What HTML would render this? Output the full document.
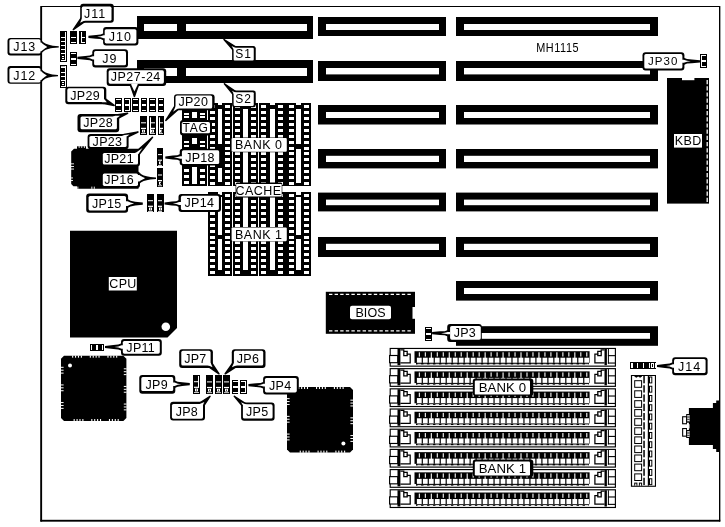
<!DOCTYPE html>
<html><head><meta charset="utf-8"><title>MH1115</title>
<style>
html,body{margin:0;padding:0;background:#fff;}
body{width:725px;height:527px;overflow:hidden;font-family:"Liberation Sans",sans-serif;}
svg{display:block;filter:grayscale(1);}
</style></head><body>
<svg width="725" height="527" viewBox="0 0 725 527">
<rect x="0" y="0" width="725" height="527" fill="#fff"/>
<path d="M41.2,6.5 L719.6,6.5 L719.6,520.7 L41.2,520.7 Z" fill="none" stroke="#000" stroke-width="1"/>
<rect x="40.30" y="6.00" width="1.80" height="515.60" fill="#000" />
<rect x="40.30" y="519.80" width="680.00" height="1.80" fill="#000" />
<rect x="719.00" y="6.00" width="1.30" height="515.60" fill="#000" />
<rect x="137.00" y="16.00" width="176.00" height="23.00" fill="#000" />
<rect x="144.00" y="24.00" width="163.00" height="7.00" fill="#fff" />
<rect x="177.00" y="16.00" width="9.00" height="23.00" fill="#000" />
<rect x="137.00" y="60.00" width="176.00" height="23.00" fill="#000" />
<rect x="144.00" y="68.00" width="163.00" height="8.00" fill="#fff" />
<rect x="177.00" y="60.00" width="9.00" height="23.00" fill="#000" />
<rect x="318.00" y="17.00" width="128.00" height="19.00" fill="#000" />
<rect x="326.00" y="24.00" width="113.00" height="6.00" fill="#fff" />
<rect x="456.00" y="17.00" width="202.00" height="19.00" fill="#000" />
<rect x="464.00" y="24.00" width="186.00" height="6.00" fill="#fff" />
<rect x="318.00" y="61.00" width="128.00" height="20.00" fill="#000" />
<rect x="326.00" y="68.00" width="113.00" height="6.40" fill="#fff" />
<rect x="456.00" y="61.00" width="202.00" height="20.00" fill="#000" />
<rect x="464.00" y="68.00" width="186.00" height="6.40" fill="#fff" />
<rect x="318.00" y="105.00" width="128.00" height="19.50" fill="#000" />
<rect x="326.00" y="112.00" width="113.00" height="6.00" fill="#fff" />
<rect x="456.00" y="105.00" width="202.00" height="19.50" fill="#000" />
<rect x="464.00" y="112.00" width="186.00" height="6.00" fill="#fff" />
<rect x="318.00" y="149.00" width="128.00" height="19.40" fill="#000" />
<rect x="326.00" y="155.80" width="113.00" height="6.20" fill="#fff" />
<rect x="456.00" y="149.00" width="202.00" height="19.40" fill="#000" />
<rect x="464.00" y="155.80" width="186.00" height="6.20" fill="#fff" />
<rect x="318.00" y="192.60" width="128.00" height="18.80" fill="#000" />
<rect x="326.00" y="199.60" width="113.00" height="5.60" fill="#fff" />
<rect x="456.00" y="192.60" width="202.00" height="18.80" fill="#000" />
<rect x="464.00" y="199.60" width="186.00" height="5.60" fill="#fff" />
<rect x="318.00" y="237.00" width="128.00" height="20.00" fill="#000" />
<rect x="326.00" y="243.80" width="113.00" height="6.20" fill="#fff" />
<rect x="456.00" y="237.00" width="202.00" height="20.00" fill="#000" />
<rect x="464.00" y="243.80" width="186.00" height="6.20" fill="#fff" />
<rect x="456.00" y="281.00" width="202.00" height="19.60" fill="#000" />
<rect x="464.00" y="288.00" width="186.00" height="6.00" fill="#fff" />
<rect x="456.00" y="326.20" width="202.00" height="19.60" fill="#000" />
<rect x="464.00" y="333.00" width="186.00" height="5.80" fill="#fff" />
<rect x="182.00" y="103.00" width="25.00" height="83.00" fill="#000" />
<rect x="184.00" y="113.00" width="5.00" height="2.00" fill="#fff" />
<rect x="200.00" y="113.00" width="5.00" height="2.00" fill="#fff" />
<rect x="184.00" y="116.00" width="5.00" height="2.00" fill="#fff" />
<rect x="200.00" y="116.00" width="5.00" height="2.00" fill="#fff" />
<rect x="184.00" y="141.00" width="5.00" height="2.00" fill="#fff" />
<rect x="200.00" y="141.00" width="5.00" height="2.00" fill="#fff" />
<rect x="184.00" y="145.00" width="5.00" height="2.00" fill="#fff" />
<rect x="200.00" y="145.00" width="5.00" height="2.00" fill="#fff" />
<rect x="184.00" y="169.00" width="5.00" height="3.00" fill="#fff" />
<rect x="200.00" y="169.00" width="5.00" height="3.00" fill="#fff" />
<rect x="184.00" y="175.00" width="5.00" height="3.00" fill="#fff" />
<rect x="200.00" y="175.00" width="5.00" height="3.00" fill="#fff" />
<rect x="184.00" y="181.00" width="5.00" height="3.00" fill="#fff" />
<rect x="200.00" y="181.00" width="5.00" height="3.00" fill="#fff" />
<rect x="192.00" y="112.00" width="5.00" height="6.00" fill="#fff" />
<rect x="192.00" y="138.00" width="5.00" height="6.00" fill="#fff" />
<rect x="192.00" y="167.00" width="5.00" height="17.00" fill="#fff" />
<rect x="208.00" y="103.00" width="24.00" height="83.00" fill="#000" />
<rect x="210.00" y="105.00" width="5.00" height="3.00" fill="#fff" />
<rect x="225.00" y="105.00" width="5.00" height="3.00" fill="#fff" />
<rect x="210.00" y="111.00" width="5.00" height="3.00" fill="#fff" />
<rect x="225.00" y="111.00" width="5.00" height="3.00" fill="#fff" />
<rect x="210.00" y="117.00" width="5.00" height="3.00" fill="#fff" />
<rect x="225.00" y="117.00" width="5.00" height="3.00" fill="#fff" />
<rect x="210.00" y="123.00" width="5.00" height="3.00" fill="#fff" />
<rect x="225.00" y="123.00" width="5.00" height="3.00" fill="#fff" />
<rect x="210.00" y="129.00" width="5.00" height="3.00" fill="#fff" />
<rect x="225.00" y="129.00" width="5.00" height="3.00" fill="#fff" />
<rect x="210.00" y="135.00" width="5.00" height="3.00" fill="#fff" />
<rect x="225.00" y="135.00" width="5.00" height="3.00" fill="#fff" />
<rect x="210.00" y="141.00" width="5.00" height="3.00" fill="#fff" />
<rect x="225.00" y="141.00" width="5.00" height="3.00" fill="#fff" />
<rect x="210.00" y="147.00" width="5.00" height="3.00" fill="#fff" />
<rect x="225.00" y="147.00" width="5.00" height="3.00" fill="#fff" />
<rect x="210.00" y="152.00" width="5.00" height="3.00" fill="#fff" />
<rect x="225.00" y="152.00" width="5.00" height="3.00" fill="#fff" />
<rect x="210.00" y="158.00" width="5.00" height="3.00" fill="#fff" />
<rect x="225.00" y="158.00" width="5.00" height="3.00" fill="#fff" />
<rect x="210.00" y="164.00" width="5.00" height="3.00" fill="#fff" />
<rect x="225.00" y="164.00" width="5.00" height="3.00" fill="#fff" />
<rect x="210.00" y="170.00" width="5.00" height="3.00" fill="#fff" />
<rect x="225.00" y="170.00" width="5.00" height="3.00" fill="#fff" />
<rect x="210.00" y="176.00" width="5.00" height="3.00" fill="#fff" />
<rect x="225.00" y="176.00" width="5.00" height="3.00" fill="#fff" />
<rect x="210.00" y="182.00" width="5.00" height="3.00" fill="#fff" />
<rect x="225.00" y="182.00" width="5.00" height="3.00" fill="#fff" />
<rect x="218.00" y="109.00" width="4.00" height="35.00" fill="#fff" />
<rect x="218.00" y="168.00" width="4.00" height="14.00" fill="#fff" />
<rect x="218.00" y="103.00" width="4.00" height="2.00" fill="#fff" />
<rect x="208.00" y="192.00" width="24.00" height="84.00" fill="#000" />
<rect x="210.00" y="194.00" width="5.00" height="3.00" fill="#fff" />
<rect x="225.00" y="194.00" width="5.00" height="3.00" fill="#fff" />
<rect x="210.00" y="200.00" width="5.00" height="3.00" fill="#fff" />
<rect x="225.00" y="200.00" width="5.00" height="3.00" fill="#fff" />
<rect x="210.00" y="206.00" width="5.00" height="3.00" fill="#fff" />
<rect x="225.00" y="206.00" width="5.00" height="3.00" fill="#fff" />
<rect x="210.00" y="212.00" width="5.00" height="3.00" fill="#fff" />
<rect x="225.00" y="212.00" width="5.00" height="3.00" fill="#fff" />
<rect x="210.00" y="218.00" width="5.00" height="3.00" fill="#fff" />
<rect x="225.00" y="218.00" width="5.00" height="3.00" fill="#fff" />
<rect x="210.00" y="224.00" width="5.00" height="3.00" fill="#fff" />
<rect x="225.00" y="224.00" width="5.00" height="3.00" fill="#fff" />
<rect x="210.00" y="230.00" width="5.00" height="3.00" fill="#fff" />
<rect x="225.00" y="230.00" width="5.00" height="3.00" fill="#fff" />
<rect x="210.00" y="236.00" width="5.00" height="3.00" fill="#fff" />
<rect x="225.00" y="236.00" width="5.00" height="3.00" fill="#fff" />
<rect x="210.00" y="241.00" width="5.00" height="3.00" fill="#fff" />
<rect x="225.00" y="241.00" width="5.00" height="3.00" fill="#fff" />
<rect x="210.00" y="247.00" width="5.00" height="3.00" fill="#fff" />
<rect x="225.00" y="247.00" width="5.00" height="3.00" fill="#fff" />
<rect x="210.00" y="253.00" width="5.00" height="3.00" fill="#fff" />
<rect x="225.00" y="253.00" width="5.00" height="3.00" fill="#fff" />
<rect x="210.00" y="259.00" width="5.00" height="3.00" fill="#fff" />
<rect x="225.00" y="259.00" width="5.00" height="3.00" fill="#fff" />
<rect x="210.00" y="265.00" width="5.00" height="3.00" fill="#fff" />
<rect x="225.00" y="265.00" width="5.00" height="3.00" fill="#fff" />
<rect x="210.00" y="271.00" width="5.00" height="3.00" fill="#fff" />
<rect x="225.00" y="271.00" width="5.00" height="3.00" fill="#fff" />
<rect x="218.00" y="197.00" width="4.00" height="38.00" fill="#fff" />
<rect x="218.00" y="239.00" width="4.00" height="31.00" fill="#fff" />
<rect x="218.00" y="192.00" width="4.00" height="3.00" fill="#fff" />
<rect x="233.00" y="103.00" width="25.00" height="83.00" fill="#000" />
<rect x="235.00" y="105.00" width="5.00" height="3.00" fill="#fff" />
<rect x="251.00" y="105.00" width="5.00" height="3.00" fill="#fff" />
<rect x="235.00" y="111.00" width="5.00" height="3.00" fill="#fff" />
<rect x="251.00" y="111.00" width="5.00" height="3.00" fill="#fff" />
<rect x="235.00" y="117.00" width="5.00" height="3.00" fill="#fff" />
<rect x="251.00" y="117.00" width="5.00" height="3.00" fill="#fff" />
<rect x="235.00" y="123.00" width="5.00" height="3.00" fill="#fff" />
<rect x="251.00" y="123.00" width="5.00" height="3.00" fill="#fff" />
<rect x="235.00" y="129.00" width="5.00" height="3.00" fill="#fff" />
<rect x="251.00" y="129.00" width="5.00" height="3.00" fill="#fff" />
<rect x="235.00" y="135.00" width="5.00" height="3.00" fill="#fff" />
<rect x="251.00" y="135.00" width="5.00" height="3.00" fill="#fff" />
<rect x="235.00" y="141.00" width="5.00" height="3.00" fill="#fff" />
<rect x="251.00" y="141.00" width="5.00" height="3.00" fill="#fff" />
<rect x="235.00" y="147.00" width="5.00" height="3.00" fill="#fff" />
<rect x="251.00" y="147.00" width="5.00" height="3.00" fill="#fff" />
<rect x="235.00" y="152.00" width="5.00" height="3.00" fill="#fff" />
<rect x="251.00" y="152.00" width="5.00" height="3.00" fill="#fff" />
<rect x="235.00" y="158.00" width="5.00" height="3.00" fill="#fff" />
<rect x="251.00" y="158.00" width="5.00" height="3.00" fill="#fff" />
<rect x="235.00" y="164.00" width="5.00" height="3.00" fill="#fff" />
<rect x="251.00" y="164.00" width="5.00" height="3.00" fill="#fff" />
<rect x="235.00" y="170.00" width="5.00" height="3.00" fill="#fff" />
<rect x="251.00" y="170.00" width="5.00" height="3.00" fill="#fff" />
<rect x="235.00" y="176.00" width="5.00" height="3.00" fill="#fff" />
<rect x="251.00" y="176.00" width="5.00" height="3.00" fill="#fff" />
<rect x="235.00" y="182.00" width="5.00" height="3.00" fill="#fff" />
<rect x="251.00" y="182.00" width="5.00" height="3.00" fill="#fff" />
<rect x="243.00" y="109.00" width="5.00" height="35.00" fill="#fff" />
<rect x="243.00" y="149.00" width="5.00" height="34.00" fill="#fff" />
<rect x="243.00" y="103.00" width="5.00" height="2.00" fill="#fff" />
<rect x="233.00" y="192.00" width="25.00" height="84.00" fill="#000" />
<rect x="235.00" y="194.00" width="5.00" height="3.00" fill="#fff" />
<rect x="251.00" y="194.00" width="5.00" height="3.00" fill="#fff" />
<rect x="235.00" y="200.00" width="5.00" height="3.00" fill="#fff" />
<rect x="251.00" y="200.00" width="5.00" height="3.00" fill="#fff" />
<rect x="235.00" y="206.00" width="5.00" height="3.00" fill="#fff" />
<rect x="251.00" y="206.00" width="5.00" height="3.00" fill="#fff" />
<rect x="235.00" y="212.00" width="5.00" height="3.00" fill="#fff" />
<rect x="251.00" y="212.00" width="5.00" height="3.00" fill="#fff" />
<rect x="235.00" y="218.00" width="5.00" height="3.00" fill="#fff" />
<rect x="251.00" y="218.00" width="5.00" height="3.00" fill="#fff" />
<rect x="235.00" y="224.00" width="5.00" height="3.00" fill="#fff" />
<rect x="251.00" y="224.00" width="5.00" height="3.00" fill="#fff" />
<rect x="235.00" y="230.00" width="5.00" height="3.00" fill="#fff" />
<rect x="251.00" y="230.00" width="5.00" height="3.00" fill="#fff" />
<rect x="235.00" y="236.00" width="5.00" height="3.00" fill="#fff" />
<rect x="251.00" y="236.00" width="5.00" height="3.00" fill="#fff" />
<rect x="235.00" y="241.00" width="5.00" height="3.00" fill="#fff" />
<rect x="251.00" y="241.00" width="5.00" height="3.00" fill="#fff" />
<rect x="235.00" y="247.00" width="5.00" height="3.00" fill="#fff" />
<rect x="251.00" y="247.00" width="5.00" height="3.00" fill="#fff" />
<rect x="235.00" y="253.00" width="5.00" height="3.00" fill="#fff" />
<rect x="251.00" y="253.00" width="5.00" height="3.00" fill="#fff" />
<rect x="235.00" y="259.00" width="5.00" height="3.00" fill="#fff" />
<rect x="251.00" y="259.00" width="5.00" height="3.00" fill="#fff" />
<rect x="235.00" y="265.00" width="5.00" height="3.00" fill="#fff" />
<rect x="251.00" y="265.00" width="5.00" height="3.00" fill="#fff" />
<rect x="235.00" y="271.00" width="5.00" height="3.00" fill="#fff" />
<rect x="251.00" y="271.00" width="5.00" height="3.00" fill="#fff" />
<rect x="243.00" y="197.00" width="5.00" height="38.00" fill="#fff" />
<rect x="243.00" y="239.00" width="5.00" height="31.00" fill="#fff" />
<rect x="243.00" y="192.00" width="5.00" height="3.00" fill="#fff" />
<rect x="259.00" y="103.00" width="27.00" height="83.00" fill="#000" />
<rect x="261.00" y="105.00" width="5.00" height="3.00" fill="#fff" />
<rect x="278.00" y="105.00" width="5.00" height="3.00" fill="#fff" />
<rect x="261.00" y="111.00" width="5.00" height="3.00" fill="#fff" />
<rect x="278.00" y="111.00" width="5.00" height="3.00" fill="#fff" />
<rect x="261.00" y="117.00" width="5.00" height="3.00" fill="#fff" />
<rect x="278.00" y="117.00" width="5.00" height="3.00" fill="#fff" />
<rect x="261.00" y="123.00" width="5.00" height="3.00" fill="#fff" />
<rect x="278.00" y="123.00" width="5.00" height="3.00" fill="#fff" />
<rect x="261.00" y="129.00" width="5.00" height="3.00" fill="#fff" />
<rect x="278.00" y="129.00" width="5.00" height="3.00" fill="#fff" />
<rect x="261.00" y="135.00" width="5.00" height="3.00" fill="#fff" />
<rect x="278.00" y="135.00" width="5.00" height="3.00" fill="#fff" />
<rect x="261.00" y="141.00" width="5.00" height="3.00" fill="#fff" />
<rect x="278.00" y="141.00" width="5.00" height="3.00" fill="#fff" />
<rect x="261.00" y="147.00" width="5.00" height="3.00" fill="#fff" />
<rect x="278.00" y="147.00" width="5.00" height="3.00" fill="#fff" />
<rect x="261.00" y="152.00" width="5.00" height="3.00" fill="#fff" />
<rect x="278.00" y="152.00" width="5.00" height="3.00" fill="#fff" />
<rect x="261.00" y="158.00" width="5.00" height="3.00" fill="#fff" />
<rect x="278.00" y="158.00" width="5.00" height="3.00" fill="#fff" />
<rect x="261.00" y="164.00" width="5.00" height="3.00" fill="#fff" />
<rect x="278.00" y="164.00" width="5.00" height="3.00" fill="#fff" />
<rect x="261.00" y="170.00" width="5.00" height="3.00" fill="#fff" />
<rect x="278.00" y="170.00" width="5.00" height="3.00" fill="#fff" />
<rect x="261.00" y="176.00" width="5.00" height="3.00" fill="#fff" />
<rect x="278.00" y="176.00" width="5.00" height="3.00" fill="#fff" />
<rect x="261.00" y="182.00" width="5.00" height="3.00" fill="#fff" />
<rect x="278.00" y="182.00" width="5.00" height="3.00" fill="#fff" />
<rect x="270.00" y="109.00" width="5.00" height="35.00" fill="#fff" />
<rect x="270.00" y="149.00" width="5.00" height="34.00" fill="#fff" />
<rect x="270.00" y="103.00" width="5.00" height="2.00" fill="#fff" />
<rect x="259.00" y="192.00" width="27.00" height="84.00" fill="#000" />
<rect x="261.00" y="194.00" width="5.00" height="3.00" fill="#fff" />
<rect x="278.00" y="194.00" width="5.00" height="3.00" fill="#fff" />
<rect x="261.00" y="200.00" width="5.00" height="3.00" fill="#fff" />
<rect x="278.00" y="200.00" width="5.00" height="3.00" fill="#fff" />
<rect x="261.00" y="206.00" width="5.00" height="3.00" fill="#fff" />
<rect x="278.00" y="206.00" width="5.00" height="3.00" fill="#fff" />
<rect x="261.00" y="212.00" width="5.00" height="3.00" fill="#fff" />
<rect x="278.00" y="212.00" width="5.00" height="3.00" fill="#fff" />
<rect x="261.00" y="218.00" width="5.00" height="3.00" fill="#fff" />
<rect x="278.00" y="218.00" width="5.00" height="3.00" fill="#fff" />
<rect x="261.00" y="224.00" width="5.00" height="3.00" fill="#fff" />
<rect x="278.00" y="224.00" width="5.00" height="3.00" fill="#fff" />
<rect x="261.00" y="230.00" width="5.00" height="3.00" fill="#fff" />
<rect x="278.00" y="230.00" width="5.00" height="3.00" fill="#fff" />
<rect x="261.00" y="236.00" width="5.00" height="3.00" fill="#fff" />
<rect x="278.00" y="236.00" width="5.00" height="3.00" fill="#fff" />
<rect x="261.00" y="241.00" width="5.00" height="3.00" fill="#fff" />
<rect x="278.00" y="241.00" width="5.00" height="3.00" fill="#fff" />
<rect x="261.00" y="247.00" width="5.00" height="3.00" fill="#fff" />
<rect x="278.00" y="247.00" width="5.00" height="3.00" fill="#fff" />
<rect x="261.00" y="253.00" width="5.00" height="3.00" fill="#fff" />
<rect x="278.00" y="253.00" width="5.00" height="3.00" fill="#fff" />
<rect x="261.00" y="259.00" width="5.00" height="3.00" fill="#fff" />
<rect x="278.00" y="259.00" width="5.00" height="3.00" fill="#fff" />
<rect x="261.00" y="265.00" width="5.00" height="3.00" fill="#fff" />
<rect x="278.00" y="265.00" width="5.00" height="3.00" fill="#fff" />
<rect x="261.00" y="271.00" width="5.00" height="3.00" fill="#fff" />
<rect x="278.00" y="271.00" width="5.00" height="3.00" fill="#fff" />
<rect x="270.00" y="197.00" width="5.00" height="38.00" fill="#fff" />
<rect x="270.00" y="239.00" width="5.00" height="31.00" fill="#fff" />
<rect x="270.00" y="192.00" width="5.00" height="3.00" fill="#fff" />
<rect x="286.00" y="103.00" width="25.00" height="83.00" fill="#000" />
<rect x="289.00" y="105.00" width="5.00" height="3.00" fill="#fff" />
<rect x="304.00" y="105.00" width="5.00" height="3.00" fill="#fff" />
<rect x="289.00" y="111.00" width="5.00" height="3.00" fill="#fff" />
<rect x="304.00" y="111.00" width="5.00" height="3.00" fill="#fff" />
<rect x="289.00" y="117.00" width="5.00" height="3.00" fill="#fff" />
<rect x="304.00" y="117.00" width="5.00" height="3.00" fill="#fff" />
<rect x="289.00" y="123.00" width="5.00" height="3.00" fill="#fff" />
<rect x="304.00" y="123.00" width="5.00" height="3.00" fill="#fff" />
<rect x="289.00" y="129.00" width="5.00" height="3.00" fill="#fff" />
<rect x="304.00" y="129.00" width="5.00" height="3.00" fill="#fff" />
<rect x="289.00" y="135.00" width="5.00" height="3.00" fill="#fff" />
<rect x="304.00" y="135.00" width="5.00" height="3.00" fill="#fff" />
<rect x="289.00" y="141.00" width="5.00" height="3.00" fill="#fff" />
<rect x="304.00" y="141.00" width="5.00" height="3.00" fill="#fff" />
<rect x="289.00" y="147.00" width="5.00" height="3.00" fill="#fff" />
<rect x="304.00" y="147.00" width="5.00" height="3.00" fill="#fff" />
<rect x="289.00" y="152.00" width="5.00" height="3.00" fill="#fff" />
<rect x="304.00" y="152.00" width="5.00" height="3.00" fill="#fff" />
<rect x="289.00" y="158.00" width="5.00" height="3.00" fill="#fff" />
<rect x="304.00" y="158.00" width="5.00" height="3.00" fill="#fff" />
<rect x="289.00" y="164.00" width="5.00" height="3.00" fill="#fff" />
<rect x="304.00" y="164.00" width="5.00" height="3.00" fill="#fff" />
<rect x="289.00" y="170.00" width="5.00" height="3.00" fill="#fff" />
<rect x="304.00" y="170.00" width="5.00" height="3.00" fill="#fff" />
<rect x="289.00" y="176.00" width="5.00" height="3.00" fill="#fff" />
<rect x="304.00" y="176.00" width="5.00" height="3.00" fill="#fff" />
<rect x="289.00" y="182.00" width="5.00" height="3.00" fill="#fff" />
<rect x="304.00" y="182.00" width="5.00" height="3.00" fill="#fff" />
<rect x="296.00" y="109.00" width="5.00" height="35.00" fill="#fff" />
<rect x="296.00" y="149.00" width="5.00" height="34.00" fill="#fff" />
<rect x="296.00" y="103.00" width="5.00" height="2.00" fill="#fff" />
<rect x="286.00" y="192.00" width="25.00" height="84.00" fill="#000" />
<rect x="289.00" y="194.00" width="5.00" height="3.00" fill="#fff" />
<rect x="304.00" y="194.00" width="5.00" height="3.00" fill="#fff" />
<rect x="289.00" y="200.00" width="5.00" height="3.00" fill="#fff" />
<rect x="304.00" y="200.00" width="5.00" height="3.00" fill="#fff" />
<rect x="289.00" y="206.00" width="5.00" height="3.00" fill="#fff" />
<rect x="304.00" y="206.00" width="5.00" height="3.00" fill="#fff" />
<rect x="289.00" y="212.00" width="5.00" height="3.00" fill="#fff" />
<rect x="304.00" y="212.00" width="5.00" height="3.00" fill="#fff" />
<rect x="289.00" y="218.00" width="5.00" height="3.00" fill="#fff" />
<rect x="304.00" y="218.00" width="5.00" height="3.00" fill="#fff" />
<rect x="289.00" y="224.00" width="5.00" height="3.00" fill="#fff" />
<rect x="304.00" y="224.00" width="5.00" height="3.00" fill="#fff" />
<rect x="289.00" y="230.00" width="5.00" height="3.00" fill="#fff" />
<rect x="304.00" y="230.00" width="5.00" height="3.00" fill="#fff" />
<rect x="289.00" y="236.00" width="5.00" height="3.00" fill="#fff" />
<rect x="304.00" y="236.00" width="5.00" height="3.00" fill="#fff" />
<rect x="289.00" y="241.00" width="5.00" height="3.00" fill="#fff" />
<rect x="304.00" y="241.00" width="5.00" height="3.00" fill="#fff" />
<rect x="289.00" y="247.00" width="5.00" height="3.00" fill="#fff" />
<rect x="304.00" y="247.00" width="5.00" height="3.00" fill="#fff" />
<rect x="289.00" y="253.00" width="5.00" height="3.00" fill="#fff" />
<rect x="304.00" y="253.00" width="5.00" height="3.00" fill="#fff" />
<rect x="289.00" y="259.00" width="5.00" height="3.00" fill="#fff" />
<rect x="304.00" y="259.00" width="5.00" height="3.00" fill="#fff" />
<rect x="289.00" y="265.00" width="5.00" height="3.00" fill="#fff" />
<rect x="304.00" y="265.00" width="5.00" height="3.00" fill="#fff" />
<rect x="289.00" y="271.00" width="5.00" height="3.00" fill="#fff" />
<rect x="304.00" y="271.00" width="5.00" height="3.00" fill="#fff" />
<rect x="296.00" y="197.00" width="5.00" height="38.00" fill="#fff" />
<rect x="296.00" y="239.00" width="5.00" height="31.00" fill="#fff" />
<rect x="296.00" y="192.00" width="5.00" height="3.00" fill="#fff" />
<path d="M70,230.8 L177,230.8 L177,328 L167.5,337.5 L70,337.5 Z" fill="#000"/>
<circle cx="165.8" cy="326.8" r="4.3" fill="#fff"/>
<rect x="325.80" y="291.80" width="89.20" height="42.00" fill="#000" />
<line x1="329" y1="294.4" x2="413" y2="294.4" stroke="#fff" stroke-width="1.1" stroke-dasharray="3.4,2.2"/>
<line x1="329" y1="330.9" x2="413" y2="330.9" stroke="#fff" stroke-width="1.1" stroke-dasharray="3.4,2.2"/>
<rect x="412.50" y="307.00" width="2.70" height="11.80" fill="#fff" />
<rect x="667.00" y="78.00" width="42.00" height="125.60" fill="#000" />
<rect x="682.00" y="77.50" width="12.40" height="2.70" fill="#fff" />
<line x1="707.2" y1="80" x2="707.2" y2="203" stroke="#fff" stroke-width="1.3" stroke-dasharray="4.2,2"/>
<path d="M74,148.7 L138.5,148.7 L138.5,188.7 L77,188.7 L77,186.2 L73.4,186.2 L71.2,184 L71.2,151.5 Z" fill="#000"/>
<rect x="77.00" y="146.30" width="9.00" height="2.70" fill="#000" />
<rect x="78.70" y="146.10" width="0.90" height="1.80" fill="#fff" />
<rect x="81.30" y="146.10" width="0.90" height="1.80" fill="#fff" />
<rect x="83.90" y="146.10" width="0.90" height="1.80" fill="#fff" />
<rect x="71.00" y="163.40" width="3.00" height="0.90" fill="#fff" />
<rect x="71.00" y="166.00" width="3.00" height="0.90" fill="#fff" />
<rect x="71.00" y="168.60" width="3.00" height="0.90" fill="#fff" />
<rect x="71.00" y="177.50" width="2.00" height="0.90" fill="#fff" />
<rect x="71.00" y="180.10" width="2.00" height="0.90" fill="#fff" />
<rect x="77.40" y="186.60" width="0.90" height="2.30" fill="#fff" />
<rect x="91.40" y="186.60" width="0.90" height="2.30" fill="#fff" />
<rect x="93.80" y="186.60" width="0.90" height="2.30" fill="#fff" />
<path d="M64,355.7 L123.4,355.7 L126.4,358.7 L126.4,418 L123.4,421 L64,421 L61,418 L61,358.7 Z" fill="#000"/>
<rect x="72.12" y="355.50" width="1.10" height="2.20" fill="#fff" />
<rect x="73.62" y="419.00" width="1.10" height="2.20" fill="#fff" />
<rect x="75.02" y="355.50" width="1.10" height="2.20" fill="#fff" />
<rect x="76.52" y="419.00" width="1.10" height="2.20" fill="#fff" />
<rect x="77.92" y="355.50" width="1.10" height="2.20" fill="#fff" />
<rect x="79.42" y="419.00" width="1.10" height="2.20" fill="#fff" />
<rect x="80.82" y="355.50" width="1.10" height="2.20" fill="#fff" />
<rect x="82.32" y="419.00" width="1.10" height="2.20" fill="#fff" />
<rect x="60.80" y="366.80" width="2.80" height="1.00" fill="#fff" />
<rect x="123.80" y="368.30" width="2.80" height="1.00" fill="#fff" />
<rect x="60.80" y="369.70" width="2.80" height="1.00" fill="#fff" />
<rect x="123.80" y="371.20" width="2.80" height="1.00" fill="#fff" />
<rect x="60.80" y="372.60" width="2.80" height="1.00" fill="#fff" />
<rect x="123.80" y="374.10" width="2.80" height="1.00" fill="#fff" />
<rect x="89.78" y="355.50" width="1.10" height="2.20" fill="#fff" />
<rect x="91.28" y="419.00" width="1.10" height="2.20" fill="#fff" />
<rect x="92.68" y="355.50" width="1.10" height="2.20" fill="#fff" />
<rect x="94.18" y="419.00" width="1.10" height="2.20" fill="#fff" />
<rect x="95.58" y="355.50" width="1.10" height="2.20" fill="#fff" />
<rect x="97.08" y="419.00" width="1.10" height="2.20" fill="#fff" />
<rect x="98.48" y="355.50" width="1.10" height="2.20" fill="#fff" />
<rect x="99.98" y="419.00" width="1.10" height="2.20" fill="#fff" />
<rect x="60.80" y="384.43" width="2.80" height="1.00" fill="#fff" />
<rect x="123.80" y="385.93" width="2.80" height="1.00" fill="#fff" />
<rect x="60.80" y="387.33" width="2.80" height="1.00" fill="#fff" />
<rect x="123.80" y="388.83" width="2.80" height="1.00" fill="#fff" />
<rect x="60.80" y="390.23" width="2.80" height="1.00" fill="#fff" />
<rect x="123.80" y="391.73" width="2.80" height="1.00" fill="#fff" />
<rect x="107.43" y="355.50" width="1.10" height="2.20" fill="#fff" />
<rect x="108.93" y="419.00" width="1.10" height="2.20" fill="#fff" />
<rect x="110.33" y="355.50" width="1.10" height="2.20" fill="#fff" />
<rect x="111.83" y="419.00" width="1.10" height="2.20" fill="#fff" />
<rect x="113.23" y="355.50" width="1.10" height="2.20" fill="#fff" />
<rect x="114.73" y="419.00" width="1.10" height="2.20" fill="#fff" />
<rect x="116.13" y="355.50" width="1.10" height="2.20" fill="#fff" />
<rect x="117.63" y="419.00" width="1.10" height="2.20" fill="#fff" />
<rect x="60.80" y="402.06" width="2.80" height="1.00" fill="#fff" />
<rect x="123.80" y="403.56" width="2.80" height="1.00" fill="#fff" />
<rect x="60.80" y="404.96" width="2.80" height="1.00" fill="#fff" />
<rect x="123.80" y="406.46" width="2.80" height="1.00" fill="#fff" />
<rect x="60.80" y="407.86" width="2.80" height="1.00" fill="#fff" />
<rect x="123.80" y="409.36" width="2.80" height="1.00" fill="#fff" />
<circle cx="70" cy="365.4" r="2.0" fill="#fff"/>
<path d="M290,387 L350,387 L353,390 L353,449.6 L350,452.6 L290,452.6 L287,449.6 L287,390 Z" fill="#000"/>
<rect x="298.22" y="386.80" width="1.10" height="2.20" fill="#fff" />
<rect x="299.72" y="450.60" width="1.10" height="2.20" fill="#fff" />
<rect x="301.12" y="386.80" width="1.10" height="2.20" fill="#fff" />
<rect x="302.62" y="450.60" width="1.10" height="2.20" fill="#fff" />
<rect x="304.02" y="386.80" width="1.10" height="2.20" fill="#fff" />
<rect x="305.52" y="450.60" width="1.10" height="2.20" fill="#fff" />
<rect x="306.92" y="386.80" width="1.10" height="2.20" fill="#fff" />
<rect x="308.42" y="450.60" width="1.10" height="2.20" fill="#fff" />
<rect x="286.80" y="398.15" width="2.80" height="1.00" fill="#fff" />
<rect x="350.40" y="399.65" width="2.80" height="1.00" fill="#fff" />
<rect x="286.80" y="401.05" width="2.80" height="1.00" fill="#fff" />
<rect x="350.40" y="402.55" width="2.80" height="1.00" fill="#fff" />
<rect x="286.80" y="403.95" width="2.80" height="1.00" fill="#fff" />
<rect x="350.40" y="405.45" width="2.80" height="1.00" fill="#fff" />
<rect x="316.04" y="386.80" width="1.10" height="2.20" fill="#fff" />
<rect x="317.54" y="450.60" width="1.10" height="2.20" fill="#fff" />
<rect x="318.94" y="386.80" width="1.10" height="2.20" fill="#fff" />
<rect x="320.44" y="450.60" width="1.10" height="2.20" fill="#fff" />
<rect x="321.84" y="386.80" width="1.10" height="2.20" fill="#fff" />
<rect x="323.34" y="450.60" width="1.10" height="2.20" fill="#fff" />
<rect x="324.74" y="386.80" width="1.10" height="2.20" fill="#fff" />
<rect x="326.24" y="450.60" width="1.10" height="2.20" fill="#fff" />
<rect x="286.80" y="415.86" width="2.80" height="1.00" fill="#fff" />
<rect x="350.40" y="417.36" width="2.80" height="1.00" fill="#fff" />
<rect x="286.80" y="418.76" width="2.80" height="1.00" fill="#fff" />
<rect x="350.40" y="420.26" width="2.80" height="1.00" fill="#fff" />
<rect x="286.80" y="421.66" width="2.80" height="1.00" fill="#fff" />
<rect x="350.40" y="423.16" width="2.80" height="1.00" fill="#fff" />
<rect x="333.86" y="386.80" width="1.10" height="2.20" fill="#fff" />
<rect x="335.36" y="450.60" width="1.10" height="2.20" fill="#fff" />
<rect x="336.76" y="386.80" width="1.10" height="2.20" fill="#fff" />
<rect x="338.26" y="450.60" width="1.10" height="2.20" fill="#fff" />
<rect x="339.66" y="386.80" width="1.10" height="2.20" fill="#fff" />
<rect x="341.16" y="450.60" width="1.10" height="2.20" fill="#fff" />
<rect x="342.56" y="386.80" width="1.10" height="2.20" fill="#fff" />
<rect x="344.06" y="450.60" width="1.10" height="2.20" fill="#fff" />
<rect x="286.80" y="433.58" width="2.80" height="1.00" fill="#fff" />
<rect x="350.40" y="435.08" width="2.80" height="1.00" fill="#fff" />
<rect x="286.80" y="436.48" width="2.80" height="1.00" fill="#fff" />
<rect x="350.40" y="437.98" width="2.80" height="1.00" fill="#fff" />
<rect x="286.80" y="439.38" width="2.80" height="1.00" fill="#fff" />
<rect x="350.40" y="440.88" width="2.80" height="1.00" fill="#fff" />
<circle cx="343.4" cy="443.4" r="2.0" fill="#fff"/>
<path d="M688.9,408 L712.9,408 L712.9,403 L716.2,403 L716.2,400.5 L719.6,400.5 L719.6,452 L716.2,452 L716.2,449 L712.9,449 L712.9,445 L688.9,445 Z" fill="#000"/>
<rect x="682.10" y="416.20" width="4.90" height="8.10" fill="#000" />
<rect x="683.20" y="417.30" width="3.00" height="5.90" fill="#fff" />
<rect x="686.20" y="414.00" width="3.00" height="8.70" fill="#000" />
<rect x="687.20" y="415.00" width="2.40" height="6.70" fill="#fff" />
<rect x="687.20" y="415.80" width="2.40" height="0.70" fill="#000" />
<rect x="687.20" y="417.50" width="2.40" height="0.70" fill="#000" />
<rect x="687.20" y="419.20" width="2.40" height="0.70" fill="#000" />
<rect x="687.20" y="420.90" width="2.40" height="0.70" fill="#000" />
<rect x="682.10" y="428.00" width="4.90" height="8.70" fill="#000" />
<rect x="683.20" y="429.10" width="3.00" height="6.50" fill="#fff" />
<rect x="686.20" y="430.00" width="3.00" height="8.00" fill="#000" />
<rect x="687.20" y="431.00" width="2.40" height="6.00" fill="#fff" />
<rect x="687.20" y="431.80" width="2.40" height="0.70" fill="#000" />
<rect x="687.20" y="433.50" width="2.40" height="0.70" fill="#000" />
<rect x="687.20" y="435.20" width="2.40" height="0.70" fill="#000" />
<rect x="687.20" y="436.90" width="2.40" height="0.70" fill="#000" />
<rect x="688.30" y="424.20" width="1.20" height="4.20" fill="#fff" />
<rect x="630.90" y="375.00" width="25.10" height="111.80" fill="#000" />
<rect x="632.10" y="376.00" width="22.80" height="109.70" fill="#fff" />
<path d="M634.4,376 L642,376 L642,376.6 L640.1,377.7 L638.2,376.6 L636.3,377.7 L634.4,376.6 Z" fill="#000"/>
<rect x="634.20" y="380.20" width="7.90" height="7.60" fill="#000" />
<rect x="635.20" y="381.20" width="5.90" height="5.60" fill="#fff" />
<rect x="634.20" y="390.30" width="7.90" height="7.60" fill="#000" />
<rect x="635.20" y="391.30" width="5.90" height="5.60" fill="#fff" />
<rect x="634.20" y="400.20" width="7.90" height="7.60" fill="#000" />
<rect x="635.20" y="401.20" width="5.90" height="5.60" fill="#fff" />
<rect x="634.20" y="409.10" width="7.90" height="7.60" fill="#000" />
<rect x="635.20" y="410.10" width="5.90" height="5.60" fill="#fff" />
<rect x="634.20" y="418.20" width="7.90" height="7.60" fill="#000" />
<rect x="635.20" y="419.20" width="5.90" height="5.60" fill="#fff" />
<rect x="634.20" y="427.30" width="7.90" height="7.60" fill="#000" />
<rect x="635.20" y="428.30" width="5.90" height="5.60" fill="#fff" />
<rect x="634.20" y="436.40" width="7.90" height="7.60" fill="#000" />
<rect x="635.20" y="437.40" width="5.90" height="5.60" fill="#fff" />
<rect x="634.20" y="445.50" width="7.90" height="7.60" fill="#000" />
<rect x="635.20" y="446.50" width="5.90" height="5.60" fill="#fff" />
<rect x="634.20" y="454.50" width="7.90" height="7.60" fill="#000" />
<rect x="635.20" y="455.50" width="5.90" height="5.60" fill="#fff" />
<rect x="634.20" y="463.60" width="7.90" height="7.60" fill="#000" />
<rect x="635.20" y="464.60" width="5.90" height="5.60" fill="#fff" />
<rect x="634.20" y="473.40" width="7.90" height="7.60" fill="#000" />
<rect x="635.20" y="474.40" width="5.90" height="5.60" fill="#fff" />
<rect x="634.20" y="482.60" width="3.20" height="3.10" fill="#000" />
<rect x="635.20" y="483.60" width="1.20" height="2.10" fill="#fff" />
<rect x="638.90" y="482.60" width="3.20" height="3.10" fill="#000" />
<rect x="639.90" y="483.60" width="1.20" height="2.10" fill="#fff" />
<rect x="643.30" y="376.00" width="1.50" height="7.30" fill="#000" />
<rect x="649.00" y="376.50" width="3.30" height="6.90" fill="#000" />
<rect x="650.00" y="377.50" width="1.30" height="4.90" fill="#fff" />
<rect x="643.30" y="385.25" width="1.50" height="7.30" fill="#000" />
<rect x="649.00" y="385.75" width="3.30" height="6.90" fill="#000" />
<rect x="650.00" y="386.75" width="1.30" height="4.90" fill="#fff" />
<rect x="643.30" y="394.50" width="1.50" height="7.30" fill="#000" />
<rect x="649.00" y="395.00" width="3.30" height="6.90" fill="#000" />
<rect x="650.00" y="396.00" width="1.30" height="4.90" fill="#fff" />
<rect x="643.30" y="403.75" width="1.50" height="7.30" fill="#000" />
<rect x="649.00" y="404.25" width="3.30" height="6.90" fill="#000" />
<rect x="650.00" y="405.25" width="1.30" height="4.90" fill="#fff" />
<rect x="643.30" y="413.00" width="1.50" height="7.30" fill="#000" />
<rect x="649.00" y="413.50" width="3.30" height="6.90" fill="#000" />
<rect x="650.00" y="414.50" width="1.30" height="4.90" fill="#fff" />
<rect x="643.30" y="422.25" width="1.50" height="7.30" fill="#000" />
<rect x="649.00" y="422.75" width="3.30" height="6.90" fill="#000" />
<rect x="650.00" y="423.75" width="1.30" height="4.90" fill="#fff" />
<rect x="643.30" y="431.50" width="1.50" height="7.30" fill="#000" />
<rect x="649.00" y="432.00" width="3.30" height="6.90" fill="#000" />
<rect x="650.00" y="433.00" width="1.30" height="4.90" fill="#fff" />
<rect x="643.30" y="440.75" width="1.50" height="7.30" fill="#000" />
<rect x="649.00" y="441.25" width="3.30" height="6.90" fill="#000" />
<rect x="650.00" y="442.25" width="1.30" height="4.90" fill="#fff" />
<rect x="643.30" y="450.00" width="1.50" height="7.30" fill="#000" />
<rect x="649.00" y="450.50" width="3.30" height="6.90" fill="#000" />
<rect x="650.00" y="451.50" width="1.30" height="4.90" fill="#fff" />
<rect x="643.30" y="459.25" width="1.50" height="7.30" fill="#000" />
<rect x="649.00" y="459.75" width="3.30" height="6.90" fill="#000" />
<rect x="650.00" y="460.75" width="1.30" height="4.90" fill="#fff" />
<rect x="643.30" y="468.50" width="1.50" height="7.30" fill="#000" />
<rect x="649.00" y="469.00" width="3.30" height="6.90" fill="#000" />
<rect x="650.00" y="470.00" width="1.30" height="4.90" fill="#fff" />
<rect x="643.30" y="477.75" width="1.50" height="7.30" fill="#000" />
<rect x="649.00" y="478.25" width="3.30" height="6.90" fill="#000" />
<rect x="650.00" y="479.25" width="1.30" height="4.90" fill="#fff" />
<rect x="647.80" y="376.00" width="1.20" height="109.70" fill="#000" />
<rect x="390.2" y="348.45" width="225.2" height="17.70" fill="#fff" stroke="#000" stroke-width="1.15"/>
<rect x="389.6" y="355.50" width="8.2" height="7.2" fill="#fff" stroke="#000" stroke-width="1.15"/>
<rect x="397.50" y="348.90" width="2.90" height="16.30" fill="#000" />
<path d="M400.4,349.90 L403.8,349.90 L403.8,355.60 L407.2,355.60 L407.2,354.20 L410.2,354.20 L410.2,362.90 L400.4,362.90" fill="none" stroke="#000" stroke-width="1.25"/>
<path d="M403.8,351.30 L407.2,351.30 L407.2,354.20" fill="none" stroke="#000" stroke-width="1.25"/>
<path d="M604.6,349.90 L601.2,349.90 L601.2,355.60 L597.8,355.60 L597.8,354.20 L594.9,354.20 L594.9,362.90 L604.6,362.90" fill="none" stroke="#000" stroke-width="1.25"/>
<path d="M601.2,351.30 L597.8,351.30 L597.8,354.20" fill="none" stroke="#000" stroke-width="1.25"/>
<rect x="604.50" y="348.90" width="2.40" height="16.30" fill="#000" />
<rect x="607.90" y="355.10" width="7.10" height="1.10" fill="#000" />
<rect x="607.90" y="362.50" width="7.10" height="1.10" fill="#000" />
<rect x="607.90" y="348.90" width="1.00" height="14.70" fill="#000" />
<rect x="414.50" y="351.20" width="175.10" height="11.70" fill="#000" />
<rect x="416.00" y="362.90" width="173.00" height="1.60" fill="#000" />
<rect x="416.90" y="357.70" width="4.80" height="5.00" fill="#fff" />
<rect x="417.50" y="363.80" width="3.60" height="0.90" fill="#fff" />
<rect x="418.80" y="352.30" width="1.10" height="4.20" fill="#fff" />
<rect x="422.88" y="357.70" width="4.80" height="5.00" fill="#fff" />
<rect x="423.48" y="363.80" width="3.60" height="0.90" fill="#fff" />
<rect x="424.78" y="352.30" width="1.10" height="4.20" fill="#fff" />
<rect x="428.86" y="357.70" width="4.80" height="5.00" fill="#fff" />
<rect x="429.46" y="363.80" width="3.60" height="0.90" fill="#fff" />
<rect x="430.76" y="352.30" width="1.10" height="5.80" fill="#fff" />
<rect x="434.84" y="357.70" width="4.80" height="5.00" fill="#fff" />
<rect x="435.44" y="363.80" width="3.60" height="0.90" fill="#fff" />
<rect x="436.74" y="352.30" width="1.10" height="4.20" fill="#fff" />
<rect x="440.82" y="357.70" width="4.80" height="5.00" fill="#fff" />
<rect x="441.42" y="363.80" width="3.60" height="0.90" fill="#fff" />
<rect x="442.72" y="352.30" width="1.10" height="4.20" fill="#fff" />
<rect x="446.80" y="357.70" width="4.80" height="5.00" fill="#fff" />
<rect x="447.40" y="363.80" width="3.60" height="0.90" fill="#fff" />
<rect x="448.70" y="352.30" width="1.10" height="5.80" fill="#fff" />
<rect x="452.78" y="357.70" width="4.80" height="5.00" fill="#fff" />
<rect x="453.38" y="363.80" width="3.60" height="0.90" fill="#fff" />
<rect x="454.68" y="352.30" width="1.10" height="4.20" fill="#fff" />
<rect x="458.76" y="357.70" width="4.80" height="5.00" fill="#fff" />
<rect x="459.36" y="363.80" width="3.60" height="0.90" fill="#fff" />
<rect x="460.66" y="352.30" width="1.10" height="4.20" fill="#fff" />
<rect x="464.74" y="357.70" width="4.80" height="5.00" fill="#fff" />
<rect x="465.34" y="363.80" width="3.60" height="0.90" fill="#fff" />
<rect x="466.64" y="352.30" width="1.10" height="5.80" fill="#fff" />
<rect x="470.72" y="357.70" width="4.80" height="5.00" fill="#fff" />
<rect x="471.32" y="363.80" width="3.60" height="0.90" fill="#fff" />
<rect x="472.62" y="352.30" width="1.10" height="4.20" fill="#fff" />
<rect x="476.70" y="357.70" width="4.80" height="5.00" fill="#fff" />
<rect x="477.30" y="363.80" width="3.60" height="0.90" fill="#fff" />
<rect x="478.60" y="352.30" width="1.10" height="4.20" fill="#fff" />
<rect x="482.68" y="357.70" width="4.80" height="5.00" fill="#fff" />
<rect x="483.28" y="363.80" width="3.60" height="0.90" fill="#fff" />
<rect x="484.58" y="352.30" width="1.10" height="5.80" fill="#fff" />
<rect x="488.66" y="357.70" width="4.80" height="5.00" fill="#fff" />
<rect x="489.26" y="363.80" width="3.60" height="0.90" fill="#fff" />
<rect x="490.56" y="352.30" width="1.10" height="4.20" fill="#fff" />
<rect x="494.64" y="357.70" width="4.80" height="5.00" fill="#fff" />
<rect x="495.24" y="363.80" width="3.60" height="0.90" fill="#fff" />
<rect x="496.54" y="352.30" width="1.10" height="4.20" fill="#fff" />
<rect x="500.62" y="357.70" width="4.80" height="5.00" fill="#fff" />
<rect x="501.22" y="363.80" width="3.60" height="0.90" fill="#fff" />
<rect x="502.52" y="352.30" width="1.10" height="5.80" fill="#fff" />
<rect x="506.60" y="357.70" width="4.80" height="5.00" fill="#fff" />
<rect x="507.20" y="363.80" width="3.60" height="0.90" fill="#fff" />
<rect x="508.50" y="352.30" width="1.10" height="4.20" fill="#fff" />
<rect x="512.58" y="357.70" width="4.80" height="5.00" fill="#fff" />
<rect x="513.18" y="363.80" width="3.60" height="0.90" fill="#fff" />
<rect x="514.48" y="352.30" width="1.10" height="4.20" fill="#fff" />
<rect x="518.56" y="357.70" width="4.80" height="5.00" fill="#fff" />
<rect x="519.16" y="363.80" width="3.60" height="0.90" fill="#fff" />
<rect x="520.46" y="352.30" width="1.10" height="5.80" fill="#fff" />
<rect x="524.54" y="357.70" width="4.80" height="5.00" fill="#fff" />
<rect x="525.14" y="363.80" width="3.60" height="0.90" fill="#fff" />
<rect x="526.44" y="352.30" width="1.10" height="4.20" fill="#fff" />
<rect x="530.52" y="357.70" width="4.80" height="5.00" fill="#fff" />
<rect x="531.12" y="363.80" width="3.60" height="0.90" fill="#fff" />
<rect x="532.42" y="352.30" width="1.10" height="4.20" fill="#fff" />
<rect x="536.50" y="357.70" width="4.80" height="5.00" fill="#fff" />
<rect x="537.10" y="363.80" width="3.60" height="0.90" fill="#fff" />
<rect x="538.40" y="352.30" width="1.10" height="5.80" fill="#fff" />
<rect x="542.48" y="357.70" width="4.80" height="5.00" fill="#fff" />
<rect x="543.08" y="363.80" width="3.60" height="0.90" fill="#fff" />
<rect x="544.38" y="352.30" width="1.10" height="4.20" fill="#fff" />
<rect x="548.46" y="357.70" width="4.80" height="5.00" fill="#fff" />
<rect x="549.06" y="363.80" width="3.60" height="0.90" fill="#fff" />
<rect x="550.36" y="352.30" width="1.10" height="4.20" fill="#fff" />
<rect x="554.44" y="357.70" width="4.80" height="5.00" fill="#fff" />
<rect x="555.04" y="363.80" width="3.60" height="0.90" fill="#fff" />
<rect x="556.34" y="352.30" width="1.10" height="5.80" fill="#fff" />
<rect x="560.42" y="357.70" width="4.80" height="5.00" fill="#fff" />
<rect x="561.02" y="363.80" width="3.60" height="0.90" fill="#fff" />
<rect x="562.32" y="352.30" width="1.10" height="4.20" fill="#fff" />
<rect x="566.40" y="357.70" width="4.80" height="5.00" fill="#fff" />
<rect x="567.00" y="363.80" width="3.60" height="0.90" fill="#fff" />
<rect x="568.30" y="352.30" width="1.10" height="4.20" fill="#fff" />
<rect x="572.38" y="357.70" width="4.80" height="5.00" fill="#fff" />
<rect x="572.98" y="363.80" width="3.60" height="0.90" fill="#fff" />
<rect x="574.28" y="352.30" width="1.10" height="5.80" fill="#fff" />
<rect x="578.36" y="357.70" width="4.80" height="5.00" fill="#fff" />
<rect x="578.96" y="363.80" width="3.60" height="0.90" fill="#fff" />
<rect x="580.26" y="352.30" width="1.10" height="4.20" fill="#fff" />
<rect x="584.34" y="357.70" width="4.80" height="5.00" fill="#fff" />
<rect x="584.94" y="363.80" width="3.60" height="0.90" fill="#fff" />
<rect x="586.24" y="352.30" width="1.10" height="4.20" fill="#fff" />
<rect x="390.2" y="368.64" width="225.2" height="17.70" fill="#fff" stroke="#000" stroke-width="1.15"/>
<rect x="389.6" y="375.69" width="8.2" height="7.2" fill="#fff" stroke="#000" stroke-width="1.15"/>
<rect x="397.50" y="369.09" width="2.90" height="16.30" fill="#000" />
<path d="M400.4,370.09 L403.8,370.09 L403.8,375.79 L407.2,375.79 L407.2,374.39 L410.2,374.39 L410.2,383.09 L400.4,383.09" fill="none" stroke="#000" stroke-width="1.25"/>
<path d="M403.8,371.49 L407.2,371.49 L407.2,374.39" fill="none" stroke="#000" stroke-width="1.25"/>
<path d="M604.6,370.09 L601.2,370.09 L601.2,375.79 L597.8,375.79 L597.8,374.39 L594.9,374.39 L594.9,383.09 L604.6,383.09" fill="none" stroke="#000" stroke-width="1.25"/>
<path d="M601.2,371.49 L597.8,371.49 L597.8,374.39" fill="none" stroke="#000" stroke-width="1.25"/>
<rect x="604.50" y="369.09" width="2.40" height="16.30" fill="#000" />
<rect x="607.90" y="375.29" width="7.10" height="1.10" fill="#000" />
<rect x="607.90" y="382.69" width="7.10" height="1.10" fill="#000" />
<rect x="607.90" y="369.09" width="1.00" height="14.70" fill="#000" />
<rect x="414.50" y="371.39" width="175.10" height="11.70" fill="#000" />
<rect x="416.00" y="383.09" width="173.00" height="1.60" fill="#000" />
<rect x="416.90" y="377.89" width="4.80" height="5.00" fill="#fff" />
<rect x="417.50" y="383.99" width="3.60" height="0.90" fill="#fff" />
<rect x="418.80" y="372.49" width="1.10" height="4.20" fill="#fff" />
<rect x="422.88" y="377.89" width="4.80" height="5.00" fill="#fff" />
<rect x="423.48" y="383.99" width="3.60" height="0.90" fill="#fff" />
<rect x="424.78" y="372.49" width="1.10" height="4.20" fill="#fff" />
<rect x="428.86" y="377.89" width="4.80" height="5.00" fill="#fff" />
<rect x="429.46" y="383.99" width="3.60" height="0.90" fill="#fff" />
<rect x="430.76" y="372.49" width="1.10" height="5.80" fill="#fff" />
<rect x="434.84" y="377.89" width="4.80" height="5.00" fill="#fff" />
<rect x="435.44" y="383.99" width="3.60" height="0.90" fill="#fff" />
<rect x="436.74" y="372.49" width="1.10" height="4.20" fill="#fff" />
<rect x="440.82" y="377.89" width="4.80" height="5.00" fill="#fff" />
<rect x="441.42" y="383.99" width="3.60" height="0.90" fill="#fff" />
<rect x="442.72" y="372.49" width="1.10" height="4.20" fill="#fff" />
<rect x="446.80" y="377.89" width="4.80" height="5.00" fill="#fff" />
<rect x="447.40" y="383.99" width="3.60" height="0.90" fill="#fff" />
<rect x="448.70" y="372.49" width="1.10" height="5.80" fill="#fff" />
<rect x="452.78" y="377.89" width="4.80" height="5.00" fill="#fff" />
<rect x="453.38" y="383.99" width="3.60" height="0.90" fill="#fff" />
<rect x="454.68" y="372.49" width="1.10" height="4.20" fill="#fff" />
<rect x="458.76" y="377.89" width="4.80" height="5.00" fill="#fff" />
<rect x="459.36" y="383.99" width="3.60" height="0.90" fill="#fff" />
<rect x="460.66" y="372.49" width="1.10" height="4.20" fill="#fff" />
<rect x="464.74" y="377.89" width="4.80" height="5.00" fill="#fff" />
<rect x="465.34" y="383.99" width="3.60" height="0.90" fill="#fff" />
<rect x="466.64" y="372.49" width="1.10" height="5.80" fill="#fff" />
<rect x="470.72" y="377.89" width="4.80" height="5.00" fill="#fff" />
<rect x="471.32" y="383.99" width="3.60" height="0.90" fill="#fff" />
<rect x="472.62" y="372.49" width="1.10" height="4.20" fill="#fff" />
<rect x="476.70" y="377.89" width="4.80" height="5.00" fill="#fff" />
<rect x="477.30" y="383.99" width="3.60" height="0.90" fill="#fff" />
<rect x="478.60" y="372.49" width="1.10" height="4.20" fill="#fff" />
<rect x="482.68" y="377.89" width="4.80" height="5.00" fill="#fff" />
<rect x="483.28" y="383.99" width="3.60" height="0.90" fill="#fff" />
<rect x="484.58" y="372.49" width="1.10" height="5.80" fill="#fff" />
<rect x="488.66" y="377.89" width="4.80" height="5.00" fill="#fff" />
<rect x="489.26" y="383.99" width="3.60" height="0.90" fill="#fff" />
<rect x="490.56" y="372.49" width="1.10" height="4.20" fill="#fff" />
<rect x="494.64" y="377.89" width="4.80" height="5.00" fill="#fff" />
<rect x="495.24" y="383.99" width="3.60" height="0.90" fill="#fff" />
<rect x="496.54" y="372.49" width="1.10" height="4.20" fill="#fff" />
<rect x="500.62" y="377.89" width="4.80" height="5.00" fill="#fff" />
<rect x="501.22" y="383.99" width="3.60" height="0.90" fill="#fff" />
<rect x="502.52" y="372.49" width="1.10" height="5.80" fill="#fff" />
<rect x="506.60" y="377.89" width="4.80" height="5.00" fill="#fff" />
<rect x="507.20" y="383.99" width="3.60" height="0.90" fill="#fff" />
<rect x="508.50" y="372.49" width="1.10" height="4.20" fill="#fff" />
<rect x="512.58" y="377.89" width="4.80" height="5.00" fill="#fff" />
<rect x="513.18" y="383.99" width="3.60" height="0.90" fill="#fff" />
<rect x="514.48" y="372.49" width="1.10" height="4.20" fill="#fff" />
<rect x="518.56" y="377.89" width="4.80" height="5.00" fill="#fff" />
<rect x="519.16" y="383.99" width="3.60" height="0.90" fill="#fff" />
<rect x="520.46" y="372.49" width="1.10" height="5.80" fill="#fff" />
<rect x="524.54" y="377.89" width="4.80" height="5.00" fill="#fff" />
<rect x="525.14" y="383.99" width="3.60" height="0.90" fill="#fff" />
<rect x="526.44" y="372.49" width="1.10" height="4.20" fill="#fff" />
<rect x="530.52" y="377.89" width="4.80" height="5.00" fill="#fff" />
<rect x="531.12" y="383.99" width="3.60" height="0.90" fill="#fff" />
<rect x="532.42" y="372.49" width="1.10" height="4.20" fill="#fff" />
<rect x="536.50" y="377.89" width="4.80" height="5.00" fill="#fff" />
<rect x="537.10" y="383.99" width="3.60" height="0.90" fill="#fff" />
<rect x="538.40" y="372.49" width="1.10" height="5.80" fill="#fff" />
<rect x="542.48" y="377.89" width="4.80" height="5.00" fill="#fff" />
<rect x="543.08" y="383.99" width="3.60" height="0.90" fill="#fff" />
<rect x="544.38" y="372.49" width="1.10" height="4.20" fill="#fff" />
<rect x="548.46" y="377.89" width="4.80" height="5.00" fill="#fff" />
<rect x="549.06" y="383.99" width="3.60" height="0.90" fill="#fff" />
<rect x="550.36" y="372.49" width="1.10" height="4.20" fill="#fff" />
<rect x="554.44" y="377.89" width="4.80" height="5.00" fill="#fff" />
<rect x="555.04" y="383.99" width="3.60" height="0.90" fill="#fff" />
<rect x="556.34" y="372.49" width="1.10" height="5.80" fill="#fff" />
<rect x="560.42" y="377.89" width="4.80" height="5.00" fill="#fff" />
<rect x="561.02" y="383.99" width="3.60" height="0.90" fill="#fff" />
<rect x="562.32" y="372.49" width="1.10" height="4.20" fill="#fff" />
<rect x="566.40" y="377.89" width="4.80" height="5.00" fill="#fff" />
<rect x="567.00" y="383.99" width="3.60" height="0.90" fill="#fff" />
<rect x="568.30" y="372.49" width="1.10" height="4.20" fill="#fff" />
<rect x="572.38" y="377.89" width="4.80" height="5.00" fill="#fff" />
<rect x="572.98" y="383.99" width="3.60" height="0.90" fill="#fff" />
<rect x="574.28" y="372.49" width="1.10" height="5.80" fill="#fff" />
<rect x="578.36" y="377.89" width="4.80" height="5.00" fill="#fff" />
<rect x="578.96" y="383.99" width="3.60" height="0.90" fill="#fff" />
<rect x="580.26" y="372.49" width="1.10" height="4.20" fill="#fff" />
<rect x="584.34" y="377.89" width="4.80" height="5.00" fill="#fff" />
<rect x="584.94" y="383.99" width="3.60" height="0.90" fill="#fff" />
<rect x="586.24" y="372.49" width="1.10" height="4.20" fill="#fff" />
<rect x="390.2" y="388.83" width="225.2" height="17.70" fill="#fff" stroke="#000" stroke-width="1.15"/>
<rect x="389.6" y="395.88" width="8.2" height="7.2" fill="#fff" stroke="#000" stroke-width="1.15"/>
<rect x="397.50" y="389.28" width="2.90" height="16.30" fill="#000" />
<path d="M400.4,390.28 L403.8,390.28 L403.8,395.98 L407.2,395.98 L407.2,394.58 L410.2,394.58 L410.2,403.28 L400.4,403.28" fill="none" stroke="#000" stroke-width="1.25"/>
<path d="M403.8,391.68 L407.2,391.68 L407.2,394.58" fill="none" stroke="#000" stroke-width="1.25"/>
<path d="M604.6,390.28 L601.2,390.28 L601.2,395.98 L597.8,395.98 L597.8,394.58 L594.9,394.58 L594.9,403.28 L604.6,403.28" fill="none" stroke="#000" stroke-width="1.25"/>
<path d="M601.2,391.68 L597.8,391.68 L597.8,394.58" fill="none" stroke="#000" stroke-width="1.25"/>
<rect x="604.50" y="389.28" width="2.40" height="16.30" fill="#000" />
<rect x="607.90" y="395.48" width="7.10" height="1.10" fill="#000" />
<rect x="607.90" y="402.88" width="7.10" height="1.10" fill="#000" />
<rect x="607.90" y="389.28" width="1.00" height="14.70" fill="#000" />
<rect x="414.50" y="391.58" width="175.10" height="11.70" fill="#000" />
<rect x="416.00" y="403.28" width="173.00" height="1.60" fill="#000" />
<rect x="416.90" y="398.08" width="4.80" height="5.00" fill="#fff" />
<rect x="417.50" y="404.18" width="3.60" height="0.90" fill="#fff" />
<rect x="418.80" y="392.68" width="1.10" height="4.20" fill="#fff" />
<rect x="422.88" y="398.08" width="4.80" height="5.00" fill="#fff" />
<rect x="423.48" y="404.18" width="3.60" height="0.90" fill="#fff" />
<rect x="424.78" y="392.68" width="1.10" height="4.20" fill="#fff" />
<rect x="428.86" y="398.08" width="4.80" height="5.00" fill="#fff" />
<rect x="429.46" y="404.18" width="3.60" height="0.90" fill="#fff" />
<rect x="430.76" y="392.68" width="1.10" height="5.80" fill="#fff" />
<rect x="434.84" y="398.08" width="4.80" height="5.00" fill="#fff" />
<rect x="435.44" y="404.18" width="3.60" height="0.90" fill="#fff" />
<rect x="436.74" y="392.68" width="1.10" height="4.20" fill="#fff" />
<rect x="440.82" y="398.08" width="4.80" height="5.00" fill="#fff" />
<rect x="441.42" y="404.18" width="3.60" height="0.90" fill="#fff" />
<rect x="442.72" y="392.68" width="1.10" height="4.20" fill="#fff" />
<rect x="446.80" y="398.08" width="4.80" height="5.00" fill="#fff" />
<rect x="447.40" y="404.18" width="3.60" height="0.90" fill="#fff" />
<rect x="448.70" y="392.68" width="1.10" height="5.80" fill="#fff" />
<rect x="452.78" y="398.08" width="4.80" height="5.00" fill="#fff" />
<rect x="453.38" y="404.18" width="3.60" height="0.90" fill="#fff" />
<rect x="454.68" y="392.68" width="1.10" height="4.20" fill="#fff" />
<rect x="458.76" y="398.08" width="4.80" height="5.00" fill="#fff" />
<rect x="459.36" y="404.18" width="3.60" height="0.90" fill="#fff" />
<rect x="460.66" y="392.68" width="1.10" height="4.20" fill="#fff" />
<rect x="464.74" y="398.08" width="4.80" height="5.00" fill="#fff" />
<rect x="465.34" y="404.18" width="3.60" height="0.90" fill="#fff" />
<rect x="466.64" y="392.68" width="1.10" height="5.80" fill="#fff" />
<rect x="470.72" y="398.08" width="4.80" height="5.00" fill="#fff" />
<rect x="471.32" y="404.18" width="3.60" height="0.90" fill="#fff" />
<rect x="472.62" y="392.68" width="1.10" height="4.20" fill="#fff" />
<rect x="476.70" y="398.08" width="4.80" height="5.00" fill="#fff" />
<rect x="477.30" y="404.18" width="3.60" height="0.90" fill="#fff" />
<rect x="478.60" y="392.68" width="1.10" height="4.20" fill="#fff" />
<rect x="482.68" y="398.08" width="4.80" height="5.00" fill="#fff" />
<rect x="483.28" y="404.18" width="3.60" height="0.90" fill="#fff" />
<rect x="484.58" y="392.68" width="1.10" height="5.80" fill="#fff" />
<rect x="488.66" y="398.08" width="4.80" height="5.00" fill="#fff" />
<rect x="489.26" y="404.18" width="3.60" height="0.90" fill="#fff" />
<rect x="490.56" y="392.68" width="1.10" height="4.20" fill="#fff" />
<rect x="494.64" y="398.08" width="4.80" height="5.00" fill="#fff" />
<rect x="495.24" y="404.18" width="3.60" height="0.90" fill="#fff" />
<rect x="496.54" y="392.68" width="1.10" height="4.20" fill="#fff" />
<rect x="500.62" y="398.08" width="4.80" height="5.00" fill="#fff" />
<rect x="501.22" y="404.18" width="3.60" height="0.90" fill="#fff" />
<rect x="502.52" y="392.68" width="1.10" height="5.80" fill="#fff" />
<rect x="506.60" y="398.08" width="4.80" height="5.00" fill="#fff" />
<rect x="507.20" y="404.18" width="3.60" height="0.90" fill="#fff" />
<rect x="508.50" y="392.68" width="1.10" height="4.20" fill="#fff" />
<rect x="512.58" y="398.08" width="4.80" height="5.00" fill="#fff" />
<rect x="513.18" y="404.18" width="3.60" height="0.90" fill="#fff" />
<rect x="514.48" y="392.68" width="1.10" height="4.20" fill="#fff" />
<rect x="518.56" y="398.08" width="4.80" height="5.00" fill="#fff" />
<rect x="519.16" y="404.18" width="3.60" height="0.90" fill="#fff" />
<rect x="520.46" y="392.68" width="1.10" height="5.80" fill="#fff" />
<rect x="524.54" y="398.08" width="4.80" height="5.00" fill="#fff" />
<rect x="525.14" y="404.18" width="3.60" height="0.90" fill="#fff" />
<rect x="526.44" y="392.68" width="1.10" height="4.20" fill="#fff" />
<rect x="530.52" y="398.08" width="4.80" height="5.00" fill="#fff" />
<rect x="531.12" y="404.18" width="3.60" height="0.90" fill="#fff" />
<rect x="532.42" y="392.68" width="1.10" height="4.20" fill="#fff" />
<rect x="536.50" y="398.08" width="4.80" height="5.00" fill="#fff" />
<rect x="537.10" y="404.18" width="3.60" height="0.90" fill="#fff" />
<rect x="538.40" y="392.68" width="1.10" height="5.80" fill="#fff" />
<rect x="542.48" y="398.08" width="4.80" height="5.00" fill="#fff" />
<rect x="543.08" y="404.18" width="3.60" height="0.90" fill="#fff" />
<rect x="544.38" y="392.68" width="1.10" height="4.20" fill="#fff" />
<rect x="548.46" y="398.08" width="4.80" height="5.00" fill="#fff" />
<rect x="549.06" y="404.18" width="3.60" height="0.90" fill="#fff" />
<rect x="550.36" y="392.68" width="1.10" height="4.20" fill="#fff" />
<rect x="554.44" y="398.08" width="4.80" height="5.00" fill="#fff" />
<rect x="555.04" y="404.18" width="3.60" height="0.90" fill="#fff" />
<rect x="556.34" y="392.68" width="1.10" height="5.80" fill="#fff" />
<rect x="560.42" y="398.08" width="4.80" height="5.00" fill="#fff" />
<rect x="561.02" y="404.18" width="3.60" height="0.90" fill="#fff" />
<rect x="562.32" y="392.68" width="1.10" height="4.20" fill="#fff" />
<rect x="566.40" y="398.08" width="4.80" height="5.00" fill="#fff" />
<rect x="567.00" y="404.18" width="3.60" height="0.90" fill="#fff" />
<rect x="568.30" y="392.68" width="1.10" height="4.20" fill="#fff" />
<rect x="572.38" y="398.08" width="4.80" height="5.00" fill="#fff" />
<rect x="572.98" y="404.18" width="3.60" height="0.90" fill="#fff" />
<rect x="574.28" y="392.68" width="1.10" height="5.80" fill="#fff" />
<rect x="578.36" y="398.08" width="4.80" height="5.00" fill="#fff" />
<rect x="578.96" y="404.18" width="3.60" height="0.90" fill="#fff" />
<rect x="580.26" y="392.68" width="1.10" height="4.20" fill="#fff" />
<rect x="584.34" y="398.08" width="4.80" height="5.00" fill="#fff" />
<rect x="584.94" y="404.18" width="3.60" height="0.90" fill="#fff" />
<rect x="586.24" y="392.68" width="1.10" height="4.20" fill="#fff" />
<rect x="390.2" y="409.02" width="225.2" height="17.70" fill="#fff" stroke="#000" stroke-width="1.15"/>
<rect x="389.6" y="416.07" width="8.2" height="7.2" fill="#fff" stroke="#000" stroke-width="1.15"/>
<rect x="397.50" y="409.47" width="2.90" height="16.30" fill="#000" />
<path d="M400.4,410.47 L403.8,410.47 L403.8,416.17 L407.2,416.17 L407.2,414.77 L410.2,414.77 L410.2,423.47 L400.4,423.47" fill="none" stroke="#000" stroke-width="1.25"/>
<path d="M403.8,411.87 L407.2,411.87 L407.2,414.77" fill="none" stroke="#000" stroke-width="1.25"/>
<path d="M604.6,410.47 L601.2,410.47 L601.2,416.17 L597.8,416.17 L597.8,414.77 L594.9,414.77 L594.9,423.47 L604.6,423.47" fill="none" stroke="#000" stroke-width="1.25"/>
<path d="M601.2,411.87 L597.8,411.87 L597.8,414.77" fill="none" stroke="#000" stroke-width="1.25"/>
<rect x="604.50" y="409.47" width="2.40" height="16.30" fill="#000" />
<rect x="607.90" y="415.67" width="7.10" height="1.10" fill="#000" />
<rect x="607.90" y="423.07" width="7.10" height="1.10" fill="#000" />
<rect x="607.90" y="409.47" width="1.00" height="14.70" fill="#000" />
<rect x="414.50" y="411.77" width="175.10" height="11.70" fill="#000" />
<rect x="416.00" y="423.47" width="173.00" height="1.60" fill="#000" />
<rect x="416.90" y="418.27" width="4.80" height="5.00" fill="#fff" />
<rect x="417.50" y="424.37" width="3.60" height="0.90" fill="#fff" />
<rect x="418.80" y="412.87" width="1.10" height="4.20" fill="#fff" />
<rect x="422.88" y="418.27" width="4.80" height="5.00" fill="#fff" />
<rect x="423.48" y="424.37" width="3.60" height="0.90" fill="#fff" />
<rect x="424.78" y="412.87" width="1.10" height="4.20" fill="#fff" />
<rect x="428.86" y="418.27" width="4.80" height="5.00" fill="#fff" />
<rect x="429.46" y="424.37" width="3.60" height="0.90" fill="#fff" />
<rect x="430.76" y="412.87" width="1.10" height="5.80" fill="#fff" />
<rect x="434.84" y="418.27" width="4.80" height="5.00" fill="#fff" />
<rect x="435.44" y="424.37" width="3.60" height="0.90" fill="#fff" />
<rect x="436.74" y="412.87" width="1.10" height="4.20" fill="#fff" />
<rect x="440.82" y="418.27" width="4.80" height="5.00" fill="#fff" />
<rect x="441.42" y="424.37" width="3.60" height="0.90" fill="#fff" />
<rect x="442.72" y="412.87" width="1.10" height="4.20" fill="#fff" />
<rect x="446.80" y="418.27" width="4.80" height="5.00" fill="#fff" />
<rect x="447.40" y="424.37" width="3.60" height="0.90" fill="#fff" />
<rect x="448.70" y="412.87" width="1.10" height="5.80" fill="#fff" />
<rect x="452.78" y="418.27" width="4.80" height="5.00" fill="#fff" />
<rect x="453.38" y="424.37" width="3.60" height="0.90" fill="#fff" />
<rect x="454.68" y="412.87" width="1.10" height="4.20" fill="#fff" />
<rect x="458.76" y="418.27" width="4.80" height="5.00" fill="#fff" />
<rect x="459.36" y="424.37" width="3.60" height="0.90" fill="#fff" />
<rect x="460.66" y="412.87" width="1.10" height="4.20" fill="#fff" />
<rect x="464.74" y="418.27" width="4.80" height="5.00" fill="#fff" />
<rect x="465.34" y="424.37" width="3.60" height="0.90" fill="#fff" />
<rect x="466.64" y="412.87" width="1.10" height="5.80" fill="#fff" />
<rect x="470.72" y="418.27" width="4.80" height="5.00" fill="#fff" />
<rect x="471.32" y="424.37" width="3.60" height="0.90" fill="#fff" />
<rect x="472.62" y="412.87" width="1.10" height="4.20" fill="#fff" />
<rect x="476.70" y="418.27" width="4.80" height="5.00" fill="#fff" />
<rect x="477.30" y="424.37" width="3.60" height="0.90" fill="#fff" />
<rect x="478.60" y="412.87" width="1.10" height="4.20" fill="#fff" />
<rect x="482.68" y="418.27" width="4.80" height="5.00" fill="#fff" />
<rect x="483.28" y="424.37" width="3.60" height="0.90" fill="#fff" />
<rect x="484.58" y="412.87" width="1.10" height="5.80" fill="#fff" />
<rect x="488.66" y="418.27" width="4.80" height="5.00" fill="#fff" />
<rect x="489.26" y="424.37" width="3.60" height="0.90" fill="#fff" />
<rect x="490.56" y="412.87" width="1.10" height="4.20" fill="#fff" />
<rect x="494.64" y="418.27" width="4.80" height="5.00" fill="#fff" />
<rect x="495.24" y="424.37" width="3.60" height="0.90" fill="#fff" />
<rect x="496.54" y="412.87" width="1.10" height="4.20" fill="#fff" />
<rect x="500.62" y="418.27" width="4.80" height="5.00" fill="#fff" />
<rect x="501.22" y="424.37" width="3.60" height="0.90" fill="#fff" />
<rect x="502.52" y="412.87" width="1.10" height="5.80" fill="#fff" />
<rect x="506.60" y="418.27" width="4.80" height="5.00" fill="#fff" />
<rect x="507.20" y="424.37" width="3.60" height="0.90" fill="#fff" />
<rect x="508.50" y="412.87" width="1.10" height="4.20" fill="#fff" />
<rect x="512.58" y="418.27" width="4.80" height="5.00" fill="#fff" />
<rect x="513.18" y="424.37" width="3.60" height="0.90" fill="#fff" />
<rect x="514.48" y="412.87" width="1.10" height="4.20" fill="#fff" />
<rect x="518.56" y="418.27" width="4.80" height="5.00" fill="#fff" />
<rect x="519.16" y="424.37" width="3.60" height="0.90" fill="#fff" />
<rect x="520.46" y="412.87" width="1.10" height="5.80" fill="#fff" />
<rect x="524.54" y="418.27" width="4.80" height="5.00" fill="#fff" />
<rect x="525.14" y="424.37" width="3.60" height="0.90" fill="#fff" />
<rect x="526.44" y="412.87" width="1.10" height="4.20" fill="#fff" />
<rect x="530.52" y="418.27" width="4.80" height="5.00" fill="#fff" />
<rect x="531.12" y="424.37" width="3.60" height="0.90" fill="#fff" />
<rect x="532.42" y="412.87" width="1.10" height="4.20" fill="#fff" />
<rect x="536.50" y="418.27" width="4.80" height="5.00" fill="#fff" />
<rect x="537.10" y="424.37" width="3.60" height="0.90" fill="#fff" />
<rect x="538.40" y="412.87" width="1.10" height="5.80" fill="#fff" />
<rect x="542.48" y="418.27" width="4.80" height="5.00" fill="#fff" />
<rect x="543.08" y="424.37" width="3.60" height="0.90" fill="#fff" />
<rect x="544.38" y="412.87" width="1.10" height="4.20" fill="#fff" />
<rect x="548.46" y="418.27" width="4.80" height="5.00" fill="#fff" />
<rect x="549.06" y="424.37" width="3.60" height="0.90" fill="#fff" />
<rect x="550.36" y="412.87" width="1.10" height="4.20" fill="#fff" />
<rect x="554.44" y="418.27" width="4.80" height="5.00" fill="#fff" />
<rect x="555.04" y="424.37" width="3.60" height="0.90" fill="#fff" />
<rect x="556.34" y="412.87" width="1.10" height="5.80" fill="#fff" />
<rect x="560.42" y="418.27" width="4.80" height="5.00" fill="#fff" />
<rect x="561.02" y="424.37" width="3.60" height="0.90" fill="#fff" />
<rect x="562.32" y="412.87" width="1.10" height="4.20" fill="#fff" />
<rect x="566.40" y="418.27" width="4.80" height="5.00" fill="#fff" />
<rect x="567.00" y="424.37" width="3.60" height="0.90" fill="#fff" />
<rect x="568.30" y="412.87" width="1.10" height="4.20" fill="#fff" />
<rect x="572.38" y="418.27" width="4.80" height="5.00" fill="#fff" />
<rect x="572.98" y="424.37" width="3.60" height="0.90" fill="#fff" />
<rect x="574.28" y="412.87" width="1.10" height="5.80" fill="#fff" />
<rect x="578.36" y="418.27" width="4.80" height="5.00" fill="#fff" />
<rect x="578.96" y="424.37" width="3.60" height="0.90" fill="#fff" />
<rect x="580.26" y="412.87" width="1.10" height="4.20" fill="#fff" />
<rect x="584.34" y="418.27" width="4.80" height="5.00" fill="#fff" />
<rect x="584.94" y="424.37" width="3.60" height="0.90" fill="#fff" />
<rect x="586.24" y="412.87" width="1.10" height="4.20" fill="#fff" />
<rect x="390.2" y="429.21" width="225.2" height="17.70" fill="#fff" stroke="#000" stroke-width="1.15"/>
<rect x="389.6" y="436.26" width="8.2" height="7.2" fill="#fff" stroke="#000" stroke-width="1.15"/>
<rect x="397.50" y="429.66" width="2.90" height="16.30" fill="#000" />
<path d="M400.4,430.66 L403.8,430.66 L403.8,436.36 L407.2,436.36 L407.2,434.96 L410.2,434.96 L410.2,443.66 L400.4,443.66" fill="none" stroke="#000" stroke-width="1.25"/>
<path d="M403.8,432.06 L407.2,432.06 L407.2,434.96" fill="none" stroke="#000" stroke-width="1.25"/>
<path d="M604.6,430.66 L601.2,430.66 L601.2,436.36 L597.8,436.36 L597.8,434.96 L594.9,434.96 L594.9,443.66 L604.6,443.66" fill="none" stroke="#000" stroke-width="1.25"/>
<path d="M601.2,432.06 L597.8,432.06 L597.8,434.96" fill="none" stroke="#000" stroke-width="1.25"/>
<rect x="604.50" y="429.66" width="2.40" height="16.30" fill="#000" />
<rect x="607.90" y="435.86" width="7.10" height="1.10" fill="#000" />
<rect x="607.90" y="443.26" width="7.10" height="1.10" fill="#000" />
<rect x="607.90" y="429.66" width="1.00" height="14.70" fill="#000" />
<rect x="414.50" y="431.96" width="175.10" height="11.70" fill="#000" />
<rect x="416.00" y="443.66" width="173.00" height="1.60" fill="#000" />
<rect x="416.90" y="438.46" width="4.80" height="5.00" fill="#fff" />
<rect x="417.50" y="444.56" width="3.60" height="0.90" fill="#fff" />
<rect x="418.80" y="433.06" width="1.10" height="4.20" fill="#fff" />
<rect x="422.88" y="438.46" width="4.80" height="5.00" fill="#fff" />
<rect x="423.48" y="444.56" width="3.60" height="0.90" fill="#fff" />
<rect x="424.78" y="433.06" width="1.10" height="4.20" fill="#fff" />
<rect x="428.86" y="438.46" width="4.80" height="5.00" fill="#fff" />
<rect x="429.46" y="444.56" width="3.60" height="0.90" fill="#fff" />
<rect x="430.76" y="433.06" width="1.10" height="5.80" fill="#fff" />
<rect x="434.84" y="438.46" width="4.80" height="5.00" fill="#fff" />
<rect x="435.44" y="444.56" width="3.60" height="0.90" fill="#fff" />
<rect x="436.74" y="433.06" width="1.10" height="4.20" fill="#fff" />
<rect x="440.82" y="438.46" width="4.80" height="5.00" fill="#fff" />
<rect x="441.42" y="444.56" width="3.60" height="0.90" fill="#fff" />
<rect x="442.72" y="433.06" width="1.10" height="4.20" fill="#fff" />
<rect x="446.80" y="438.46" width="4.80" height="5.00" fill="#fff" />
<rect x="447.40" y="444.56" width="3.60" height="0.90" fill="#fff" />
<rect x="448.70" y="433.06" width="1.10" height="5.80" fill="#fff" />
<rect x="452.78" y="438.46" width="4.80" height="5.00" fill="#fff" />
<rect x="453.38" y="444.56" width="3.60" height="0.90" fill="#fff" />
<rect x="454.68" y="433.06" width="1.10" height="4.20" fill="#fff" />
<rect x="458.76" y="438.46" width="4.80" height="5.00" fill="#fff" />
<rect x="459.36" y="444.56" width="3.60" height="0.90" fill="#fff" />
<rect x="460.66" y="433.06" width="1.10" height="4.20" fill="#fff" />
<rect x="464.74" y="438.46" width="4.80" height="5.00" fill="#fff" />
<rect x="465.34" y="444.56" width="3.60" height="0.90" fill="#fff" />
<rect x="466.64" y="433.06" width="1.10" height="5.80" fill="#fff" />
<rect x="470.72" y="438.46" width="4.80" height="5.00" fill="#fff" />
<rect x="471.32" y="444.56" width="3.60" height="0.90" fill="#fff" />
<rect x="472.62" y="433.06" width="1.10" height="4.20" fill="#fff" />
<rect x="476.70" y="438.46" width="4.80" height="5.00" fill="#fff" />
<rect x="477.30" y="444.56" width="3.60" height="0.90" fill="#fff" />
<rect x="478.60" y="433.06" width="1.10" height="4.20" fill="#fff" />
<rect x="482.68" y="438.46" width="4.80" height="5.00" fill="#fff" />
<rect x="483.28" y="444.56" width="3.60" height="0.90" fill="#fff" />
<rect x="484.58" y="433.06" width="1.10" height="5.80" fill="#fff" />
<rect x="488.66" y="438.46" width="4.80" height="5.00" fill="#fff" />
<rect x="489.26" y="444.56" width="3.60" height="0.90" fill="#fff" />
<rect x="490.56" y="433.06" width="1.10" height="4.20" fill="#fff" />
<rect x="494.64" y="438.46" width="4.80" height="5.00" fill="#fff" />
<rect x="495.24" y="444.56" width="3.60" height="0.90" fill="#fff" />
<rect x="496.54" y="433.06" width="1.10" height="4.20" fill="#fff" />
<rect x="500.62" y="438.46" width="4.80" height="5.00" fill="#fff" />
<rect x="501.22" y="444.56" width="3.60" height="0.90" fill="#fff" />
<rect x="502.52" y="433.06" width="1.10" height="5.80" fill="#fff" />
<rect x="506.60" y="438.46" width="4.80" height="5.00" fill="#fff" />
<rect x="507.20" y="444.56" width="3.60" height="0.90" fill="#fff" />
<rect x="508.50" y="433.06" width="1.10" height="4.20" fill="#fff" />
<rect x="512.58" y="438.46" width="4.80" height="5.00" fill="#fff" />
<rect x="513.18" y="444.56" width="3.60" height="0.90" fill="#fff" />
<rect x="514.48" y="433.06" width="1.10" height="4.20" fill="#fff" />
<rect x="518.56" y="438.46" width="4.80" height="5.00" fill="#fff" />
<rect x="519.16" y="444.56" width="3.60" height="0.90" fill="#fff" />
<rect x="520.46" y="433.06" width="1.10" height="5.80" fill="#fff" />
<rect x="524.54" y="438.46" width="4.80" height="5.00" fill="#fff" />
<rect x="525.14" y="444.56" width="3.60" height="0.90" fill="#fff" />
<rect x="526.44" y="433.06" width="1.10" height="4.20" fill="#fff" />
<rect x="530.52" y="438.46" width="4.80" height="5.00" fill="#fff" />
<rect x="531.12" y="444.56" width="3.60" height="0.90" fill="#fff" />
<rect x="532.42" y="433.06" width="1.10" height="4.20" fill="#fff" />
<rect x="536.50" y="438.46" width="4.80" height="5.00" fill="#fff" />
<rect x="537.10" y="444.56" width="3.60" height="0.90" fill="#fff" />
<rect x="538.40" y="433.06" width="1.10" height="5.80" fill="#fff" />
<rect x="542.48" y="438.46" width="4.80" height="5.00" fill="#fff" />
<rect x="543.08" y="444.56" width="3.60" height="0.90" fill="#fff" />
<rect x="544.38" y="433.06" width="1.10" height="4.20" fill="#fff" />
<rect x="548.46" y="438.46" width="4.80" height="5.00" fill="#fff" />
<rect x="549.06" y="444.56" width="3.60" height="0.90" fill="#fff" />
<rect x="550.36" y="433.06" width="1.10" height="4.20" fill="#fff" />
<rect x="554.44" y="438.46" width="4.80" height="5.00" fill="#fff" />
<rect x="555.04" y="444.56" width="3.60" height="0.90" fill="#fff" />
<rect x="556.34" y="433.06" width="1.10" height="5.80" fill="#fff" />
<rect x="560.42" y="438.46" width="4.80" height="5.00" fill="#fff" />
<rect x="561.02" y="444.56" width="3.60" height="0.90" fill="#fff" />
<rect x="562.32" y="433.06" width="1.10" height="4.20" fill="#fff" />
<rect x="566.40" y="438.46" width="4.80" height="5.00" fill="#fff" />
<rect x="567.00" y="444.56" width="3.60" height="0.90" fill="#fff" />
<rect x="568.30" y="433.06" width="1.10" height="4.20" fill="#fff" />
<rect x="572.38" y="438.46" width="4.80" height="5.00" fill="#fff" />
<rect x="572.98" y="444.56" width="3.60" height="0.90" fill="#fff" />
<rect x="574.28" y="433.06" width="1.10" height="5.80" fill="#fff" />
<rect x="578.36" y="438.46" width="4.80" height="5.00" fill="#fff" />
<rect x="578.96" y="444.56" width="3.60" height="0.90" fill="#fff" />
<rect x="580.26" y="433.06" width="1.10" height="4.20" fill="#fff" />
<rect x="584.34" y="438.46" width="4.80" height="5.00" fill="#fff" />
<rect x="584.94" y="444.56" width="3.60" height="0.90" fill="#fff" />
<rect x="586.24" y="433.06" width="1.10" height="4.20" fill="#fff" />
<rect x="390.2" y="449.40" width="225.2" height="17.70" fill="#fff" stroke="#000" stroke-width="1.15"/>
<rect x="389.6" y="456.45" width="8.2" height="7.2" fill="#fff" stroke="#000" stroke-width="1.15"/>
<rect x="397.50" y="449.85" width="2.90" height="16.30" fill="#000" />
<path d="M400.4,450.85 L403.8,450.85 L403.8,456.55 L407.2,456.55 L407.2,455.15 L410.2,455.15 L410.2,463.85 L400.4,463.85" fill="none" stroke="#000" stroke-width="1.25"/>
<path d="M403.8,452.25 L407.2,452.25 L407.2,455.15" fill="none" stroke="#000" stroke-width="1.25"/>
<path d="M604.6,450.85 L601.2,450.85 L601.2,456.55 L597.8,456.55 L597.8,455.15 L594.9,455.15 L594.9,463.85 L604.6,463.85" fill="none" stroke="#000" stroke-width="1.25"/>
<path d="M601.2,452.25 L597.8,452.25 L597.8,455.15" fill="none" stroke="#000" stroke-width="1.25"/>
<rect x="604.50" y="449.85" width="2.40" height="16.30" fill="#000" />
<rect x="607.90" y="456.05" width="7.10" height="1.10" fill="#000" />
<rect x="607.90" y="463.45" width="7.10" height="1.10" fill="#000" />
<rect x="607.90" y="449.85" width="1.00" height="14.70" fill="#000" />
<rect x="414.50" y="452.15" width="175.10" height="11.70" fill="#000" />
<rect x="416.00" y="463.85" width="173.00" height="1.60" fill="#000" />
<rect x="416.90" y="458.65" width="4.80" height="5.00" fill="#fff" />
<rect x="417.50" y="464.75" width="3.60" height="0.90" fill="#fff" />
<rect x="418.80" y="453.25" width="1.10" height="4.20" fill="#fff" />
<rect x="422.88" y="458.65" width="4.80" height="5.00" fill="#fff" />
<rect x="423.48" y="464.75" width="3.60" height="0.90" fill="#fff" />
<rect x="424.78" y="453.25" width="1.10" height="4.20" fill="#fff" />
<rect x="428.86" y="458.65" width="4.80" height="5.00" fill="#fff" />
<rect x="429.46" y="464.75" width="3.60" height="0.90" fill="#fff" />
<rect x="430.76" y="453.25" width="1.10" height="5.80" fill="#fff" />
<rect x="434.84" y="458.65" width="4.80" height="5.00" fill="#fff" />
<rect x="435.44" y="464.75" width="3.60" height="0.90" fill="#fff" />
<rect x="436.74" y="453.25" width="1.10" height="4.20" fill="#fff" />
<rect x="440.82" y="458.65" width="4.80" height="5.00" fill="#fff" />
<rect x="441.42" y="464.75" width="3.60" height="0.90" fill="#fff" />
<rect x="442.72" y="453.25" width="1.10" height="4.20" fill="#fff" />
<rect x="446.80" y="458.65" width="4.80" height="5.00" fill="#fff" />
<rect x="447.40" y="464.75" width="3.60" height="0.90" fill="#fff" />
<rect x="448.70" y="453.25" width="1.10" height="5.80" fill="#fff" />
<rect x="452.78" y="458.65" width="4.80" height="5.00" fill="#fff" />
<rect x="453.38" y="464.75" width="3.60" height="0.90" fill="#fff" />
<rect x="454.68" y="453.25" width="1.10" height="4.20" fill="#fff" />
<rect x="458.76" y="458.65" width="4.80" height="5.00" fill="#fff" />
<rect x="459.36" y="464.75" width="3.60" height="0.90" fill="#fff" />
<rect x="460.66" y="453.25" width="1.10" height="4.20" fill="#fff" />
<rect x="464.74" y="458.65" width="4.80" height="5.00" fill="#fff" />
<rect x="465.34" y="464.75" width="3.60" height="0.90" fill="#fff" />
<rect x="466.64" y="453.25" width="1.10" height="5.80" fill="#fff" />
<rect x="470.72" y="458.65" width="4.80" height="5.00" fill="#fff" />
<rect x="471.32" y="464.75" width="3.60" height="0.90" fill="#fff" />
<rect x="472.62" y="453.25" width="1.10" height="4.20" fill="#fff" />
<rect x="476.70" y="458.65" width="4.80" height="5.00" fill="#fff" />
<rect x="477.30" y="464.75" width="3.60" height="0.90" fill="#fff" />
<rect x="478.60" y="453.25" width="1.10" height="4.20" fill="#fff" />
<rect x="482.68" y="458.65" width="4.80" height="5.00" fill="#fff" />
<rect x="483.28" y="464.75" width="3.60" height="0.90" fill="#fff" />
<rect x="484.58" y="453.25" width="1.10" height="5.80" fill="#fff" />
<rect x="488.66" y="458.65" width="4.80" height="5.00" fill="#fff" />
<rect x="489.26" y="464.75" width="3.60" height="0.90" fill="#fff" />
<rect x="490.56" y="453.25" width="1.10" height="4.20" fill="#fff" />
<rect x="494.64" y="458.65" width="4.80" height="5.00" fill="#fff" />
<rect x="495.24" y="464.75" width="3.60" height="0.90" fill="#fff" />
<rect x="496.54" y="453.25" width="1.10" height="4.20" fill="#fff" />
<rect x="500.62" y="458.65" width="4.80" height="5.00" fill="#fff" />
<rect x="501.22" y="464.75" width="3.60" height="0.90" fill="#fff" />
<rect x="502.52" y="453.25" width="1.10" height="5.80" fill="#fff" />
<rect x="506.60" y="458.65" width="4.80" height="5.00" fill="#fff" />
<rect x="507.20" y="464.75" width="3.60" height="0.90" fill="#fff" />
<rect x="508.50" y="453.25" width="1.10" height="4.20" fill="#fff" />
<rect x="512.58" y="458.65" width="4.80" height="5.00" fill="#fff" />
<rect x="513.18" y="464.75" width="3.60" height="0.90" fill="#fff" />
<rect x="514.48" y="453.25" width="1.10" height="4.20" fill="#fff" />
<rect x="518.56" y="458.65" width="4.80" height="5.00" fill="#fff" />
<rect x="519.16" y="464.75" width="3.60" height="0.90" fill="#fff" />
<rect x="520.46" y="453.25" width="1.10" height="5.80" fill="#fff" />
<rect x="524.54" y="458.65" width="4.80" height="5.00" fill="#fff" />
<rect x="525.14" y="464.75" width="3.60" height="0.90" fill="#fff" />
<rect x="526.44" y="453.25" width="1.10" height="4.20" fill="#fff" />
<rect x="530.52" y="458.65" width="4.80" height="5.00" fill="#fff" />
<rect x="531.12" y="464.75" width="3.60" height="0.90" fill="#fff" />
<rect x="532.42" y="453.25" width="1.10" height="4.20" fill="#fff" />
<rect x="536.50" y="458.65" width="4.80" height="5.00" fill="#fff" />
<rect x="537.10" y="464.75" width="3.60" height="0.90" fill="#fff" />
<rect x="538.40" y="453.25" width="1.10" height="5.80" fill="#fff" />
<rect x="542.48" y="458.65" width="4.80" height="5.00" fill="#fff" />
<rect x="543.08" y="464.75" width="3.60" height="0.90" fill="#fff" />
<rect x="544.38" y="453.25" width="1.10" height="4.20" fill="#fff" />
<rect x="548.46" y="458.65" width="4.80" height="5.00" fill="#fff" />
<rect x="549.06" y="464.75" width="3.60" height="0.90" fill="#fff" />
<rect x="550.36" y="453.25" width="1.10" height="4.20" fill="#fff" />
<rect x="554.44" y="458.65" width="4.80" height="5.00" fill="#fff" />
<rect x="555.04" y="464.75" width="3.60" height="0.90" fill="#fff" />
<rect x="556.34" y="453.25" width="1.10" height="5.80" fill="#fff" />
<rect x="560.42" y="458.65" width="4.80" height="5.00" fill="#fff" />
<rect x="561.02" y="464.75" width="3.60" height="0.90" fill="#fff" />
<rect x="562.32" y="453.25" width="1.10" height="4.20" fill="#fff" />
<rect x="566.40" y="458.65" width="4.80" height="5.00" fill="#fff" />
<rect x="567.00" y="464.75" width="3.60" height="0.90" fill="#fff" />
<rect x="568.30" y="453.25" width="1.10" height="4.20" fill="#fff" />
<rect x="572.38" y="458.65" width="4.80" height="5.00" fill="#fff" />
<rect x="572.98" y="464.75" width="3.60" height="0.90" fill="#fff" />
<rect x="574.28" y="453.25" width="1.10" height="5.80" fill="#fff" />
<rect x="578.36" y="458.65" width="4.80" height="5.00" fill="#fff" />
<rect x="578.96" y="464.75" width="3.60" height="0.90" fill="#fff" />
<rect x="580.26" y="453.25" width="1.10" height="4.20" fill="#fff" />
<rect x="584.34" y="458.65" width="4.80" height="5.00" fill="#fff" />
<rect x="584.94" y="464.75" width="3.60" height="0.90" fill="#fff" />
<rect x="586.24" y="453.25" width="1.10" height="4.20" fill="#fff" />
<rect x="390.2" y="469.59" width="225.2" height="17.70" fill="#fff" stroke="#000" stroke-width="1.15"/>
<rect x="389.6" y="476.64" width="8.2" height="7.2" fill="#fff" stroke="#000" stroke-width="1.15"/>
<rect x="397.50" y="470.04" width="2.90" height="16.30" fill="#000" />
<path d="M400.4,471.04 L403.8,471.04 L403.8,476.74 L407.2,476.74 L407.2,475.34 L410.2,475.34 L410.2,484.04 L400.4,484.04" fill="none" stroke="#000" stroke-width="1.25"/>
<path d="M403.8,472.44 L407.2,472.44 L407.2,475.34" fill="none" stroke="#000" stroke-width="1.25"/>
<path d="M604.6,471.04 L601.2,471.04 L601.2,476.74 L597.8,476.74 L597.8,475.34 L594.9,475.34 L594.9,484.04 L604.6,484.04" fill="none" stroke="#000" stroke-width="1.25"/>
<path d="M601.2,472.44 L597.8,472.44 L597.8,475.34" fill="none" stroke="#000" stroke-width="1.25"/>
<rect x="604.50" y="470.04" width="2.40" height="16.30" fill="#000" />
<rect x="607.90" y="476.24" width="7.10" height="1.10" fill="#000" />
<rect x="607.90" y="483.64" width="7.10" height="1.10" fill="#000" />
<rect x="607.90" y="470.04" width="1.00" height="14.70" fill="#000" />
<rect x="414.50" y="472.34" width="175.10" height="11.70" fill="#000" />
<rect x="416.00" y="484.04" width="173.00" height="1.60" fill="#000" />
<rect x="416.90" y="478.84" width="4.80" height="5.00" fill="#fff" />
<rect x="417.50" y="484.94" width="3.60" height="0.90" fill="#fff" />
<rect x="418.80" y="473.44" width="1.10" height="4.20" fill="#fff" />
<rect x="422.88" y="478.84" width="4.80" height="5.00" fill="#fff" />
<rect x="423.48" y="484.94" width="3.60" height="0.90" fill="#fff" />
<rect x="424.78" y="473.44" width="1.10" height="4.20" fill="#fff" />
<rect x="428.86" y="478.84" width="4.80" height="5.00" fill="#fff" />
<rect x="429.46" y="484.94" width="3.60" height="0.90" fill="#fff" />
<rect x="430.76" y="473.44" width="1.10" height="5.80" fill="#fff" />
<rect x="434.84" y="478.84" width="4.80" height="5.00" fill="#fff" />
<rect x="435.44" y="484.94" width="3.60" height="0.90" fill="#fff" />
<rect x="436.74" y="473.44" width="1.10" height="4.20" fill="#fff" />
<rect x="440.82" y="478.84" width="4.80" height="5.00" fill="#fff" />
<rect x="441.42" y="484.94" width="3.60" height="0.90" fill="#fff" />
<rect x="442.72" y="473.44" width="1.10" height="4.20" fill="#fff" />
<rect x="446.80" y="478.84" width="4.80" height="5.00" fill="#fff" />
<rect x="447.40" y="484.94" width="3.60" height="0.90" fill="#fff" />
<rect x="448.70" y="473.44" width="1.10" height="5.80" fill="#fff" />
<rect x="452.78" y="478.84" width="4.80" height="5.00" fill="#fff" />
<rect x="453.38" y="484.94" width="3.60" height="0.90" fill="#fff" />
<rect x="454.68" y="473.44" width="1.10" height="4.20" fill="#fff" />
<rect x="458.76" y="478.84" width="4.80" height="5.00" fill="#fff" />
<rect x="459.36" y="484.94" width="3.60" height="0.90" fill="#fff" />
<rect x="460.66" y="473.44" width="1.10" height="4.20" fill="#fff" />
<rect x="464.74" y="478.84" width="4.80" height="5.00" fill="#fff" />
<rect x="465.34" y="484.94" width="3.60" height="0.90" fill="#fff" />
<rect x="466.64" y="473.44" width="1.10" height="5.80" fill="#fff" />
<rect x="470.72" y="478.84" width="4.80" height="5.00" fill="#fff" />
<rect x="471.32" y="484.94" width="3.60" height="0.90" fill="#fff" />
<rect x="472.62" y="473.44" width="1.10" height="4.20" fill="#fff" />
<rect x="476.70" y="478.84" width="4.80" height="5.00" fill="#fff" />
<rect x="477.30" y="484.94" width="3.60" height="0.90" fill="#fff" />
<rect x="478.60" y="473.44" width="1.10" height="4.20" fill="#fff" />
<rect x="482.68" y="478.84" width="4.80" height="5.00" fill="#fff" />
<rect x="483.28" y="484.94" width="3.60" height="0.90" fill="#fff" />
<rect x="484.58" y="473.44" width="1.10" height="5.80" fill="#fff" />
<rect x="488.66" y="478.84" width="4.80" height="5.00" fill="#fff" />
<rect x="489.26" y="484.94" width="3.60" height="0.90" fill="#fff" />
<rect x="490.56" y="473.44" width="1.10" height="4.20" fill="#fff" />
<rect x="494.64" y="478.84" width="4.80" height="5.00" fill="#fff" />
<rect x="495.24" y="484.94" width="3.60" height="0.90" fill="#fff" />
<rect x="496.54" y="473.44" width="1.10" height="4.20" fill="#fff" />
<rect x="500.62" y="478.84" width="4.80" height="5.00" fill="#fff" />
<rect x="501.22" y="484.94" width="3.60" height="0.90" fill="#fff" />
<rect x="502.52" y="473.44" width="1.10" height="5.80" fill="#fff" />
<rect x="506.60" y="478.84" width="4.80" height="5.00" fill="#fff" />
<rect x="507.20" y="484.94" width="3.60" height="0.90" fill="#fff" />
<rect x="508.50" y="473.44" width="1.10" height="4.20" fill="#fff" />
<rect x="512.58" y="478.84" width="4.80" height="5.00" fill="#fff" />
<rect x="513.18" y="484.94" width="3.60" height="0.90" fill="#fff" />
<rect x="514.48" y="473.44" width="1.10" height="4.20" fill="#fff" />
<rect x="518.56" y="478.84" width="4.80" height="5.00" fill="#fff" />
<rect x="519.16" y="484.94" width="3.60" height="0.90" fill="#fff" />
<rect x="520.46" y="473.44" width="1.10" height="5.80" fill="#fff" />
<rect x="524.54" y="478.84" width="4.80" height="5.00" fill="#fff" />
<rect x="525.14" y="484.94" width="3.60" height="0.90" fill="#fff" />
<rect x="526.44" y="473.44" width="1.10" height="4.20" fill="#fff" />
<rect x="530.52" y="478.84" width="4.80" height="5.00" fill="#fff" />
<rect x="531.12" y="484.94" width="3.60" height="0.90" fill="#fff" />
<rect x="532.42" y="473.44" width="1.10" height="4.20" fill="#fff" />
<rect x="536.50" y="478.84" width="4.80" height="5.00" fill="#fff" />
<rect x="537.10" y="484.94" width="3.60" height="0.90" fill="#fff" />
<rect x="538.40" y="473.44" width="1.10" height="5.80" fill="#fff" />
<rect x="542.48" y="478.84" width="4.80" height="5.00" fill="#fff" />
<rect x="543.08" y="484.94" width="3.60" height="0.90" fill="#fff" />
<rect x="544.38" y="473.44" width="1.10" height="4.20" fill="#fff" />
<rect x="548.46" y="478.84" width="4.80" height="5.00" fill="#fff" />
<rect x="549.06" y="484.94" width="3.60" height="0.90" fill="#fff" />
<rect x="550.36" y="473.44" width="1.10" height="4.20" fill="#fff" />
<rect x="554.44" y="478.84" width="4.80" height="5.00" fill="#fff" />
<rect x="555.04" y="484.94" width="3.60" height="0.90" fill="#fff" />
<rect x="556.34" y="473.44" width="1.10" height="5.80" fill="#fff" />
<rect x="560.42" y="478.84" width="4.80" height="5.00" fill="#fff" />
<rect x="561.02" y="484.94" width="3.60" height="0.90" fill="#fff" />
<rect x="562.32" y="473.44" width="1.10" height="4.20" fill="#fff" />
<rect x="566.40" y="478.84" width="4.80" height="5.00" fill="#fff" />
<rect x="567.00" y="484.94" width="3.60" height="0.90" fill="#fff" />
<rect x="568.30" y="473.44" width="1.10" height="4.20" fill="#fff" />
<rect x="572.38" y="478.84" width="4.80" height="5.00" fill="#fff" />
<rect x="572.98" y="484.94" width="3.60" height="0.90" fill="#fff" />
<rect x="574.28" y="473.44" width="1.10" height="5.80" fill="#fff" />
<rect x="578.36" y="478.84" width="4.80" height="5.00" fill="#fff" />
<rect x="578.96" y="484.94" width="3.60" height="0.90" fill="#fff" />
<rect x="580.26" y="473.44" width="1.10" height="4.20" fill="#fff" />
<rect x="584.34" y="478.84" width="4.80" height="5.00" fill="#fff" />
<rect x="584.94" y="484.94" width="3.60" height="0.90" fill="#fff" />
<rect x="586.24" y="473.44" width="1.10" height="4.20" fill="#fff" />
<rect x="390.2" y="489.78" width="225.2" height="17.70" fill="#fff" stroke="#000" stroke-width="1.15"/>
<rect x="389.6" y="496.83" width="8.2" height="7.2" fill="#fff" stroke="#000" stroke-width="1.15"/>
<rect x="397.50" y="490.23" width="2.90" height="16.30" fill="#000" />
<path d="M400.4,491.23 L403.8,491.23 L403.8,496.93 L407.2,496.93 L407.2,495.53 L410.2,495.53 L410.2,504.23 L400.4,504.23" fill="none" stroke="#000" stroke-width="1.25"/>
<path d="M403.8,492.63 L407.2,492.63 L407.2,495.53" fill="none" stroke="#000" stroke-width="1.25"/>
<path d="M604.6,491.23 L601.2,491.23 L601.2,496.93 L597.8,496.93 L597.8,495.53 L594.9,495.53 L594.9,504.23 L604.6,504.23" fill="none" stroke="#000" stroke-width="1.25"/>
<path d="M601.2,492.63 L597.8,492.63 L597.8,495.53" fill="none" stroke="#000" stroke-width="1.25"/>
<rect x="604.50" y="490.23" width="2.40" height="16.30" fill="#000" />
<rect x="607.90" y="496.43" width="7.10" height="1.10" fill="#000" />
<rect x="607.90" y="503.83" width="7.10" height="1.10" fill="#000" />
<rect x="607.90" y="490.23" width="1.00" height="14.70" fill="#000" />
<rect x="414.50" y="492.53" width="175.10" height="11.70" fill="#000" />
<rect x="416.00" y="504.23" width="173.00" height="1.60" fill="#000" />
<rect x="416.90" y="499.03" width="4.80" height="5.00" fill="#fff" />
<rect x="417.50" y="505.13" width="3.60" height="0.90" fill="#fff" />
<rect x="418.80" y="493.63" width="1.10" height="4.20" fill="#fff" />
<rect x="422.88" y="499.03" width="4.80" height="5.00" fill="#fff" />
<rect x="423.48" y="505.13" width="3.60" height="0.90" fill="#fff" />
<rect x="424.78" y="493.63" width="1.10" height="4.20" fill="#fff" />
<rect x="428.86" y="499.03" width="4.80" height="5.00" fill="#fff" />
<rect x="429.46" y="505.13" width="3.60" height="0.90" fill="#fff" />
<rect x="430.76" y="493.63" width="1.10" height="5.80" fill="#fff" />
<rect x="434.84" y="499.03" width="4.80" height="5.00" fill="#fff" />
<rect x="435.44" y="505.13" width="3.60" height="0.90" fill="#fff" />
<rect x="436.74" y="493.63" width="1.10" height="4.20" fill="#fff" />
<rect x="440.82" y="499.03" width="4.80" height="5.00" fill="#fff" />
<rect x="441.42" y="505.13" width="3.60" height="0.90" fill="#fff" />
<rect x="442.72" y="493.63" width="1.10" height="4.20" fill="#fff" />
<rect x="446.80" y="499.03" width="4.80" height="5.00" fill="#fff" />
<rect x="447.40" y="505.13" width="3.60" height="0.90" fill="#fff" />
<rect x="448.70" y="493.63" width="1.10" height="5.80" fill="#fff" />
<rect x="452.78" y="499.03" width="4.80" height="5.00" fill="#fff" />
<rect x="453.38" y="505.13" width="3.60" height="0.90" fill="#fff" />
<rect x="454.68" y="493.63" width="1.10" height="4.20" fill="#fff" />
<rect x="458.76" y="499.03" width="4.80" height="5.00" fill="#fff" />
<rect x="459.36" y="505.13" width="3.60" height="0.90" fill="#fff" />
<rect x="460.66" y="493.63" width="1.10" height="4.20" fill="#fff" />
<rect x="464.74" y="499.03" width="4.80" height="5.00" fill="#fff" />
<rect x="465.34" y="505.13" width="3.60" height="0.90" fill="#fff" />
<rect x="466.64" y="493.63" width="1.10" height="5.80" fill="#fff" />
<rect x="470.72" y="499.03" width="4.80" height="5.00" fill="#fff" />
<rect x="471.32" y="505.13" width="3.60" height="0.90" fill="#fff" />
<rect x="472.62" y="493.63" width="1.10" height="4.20" fill="#fff" />
<rect x="476.70" y="499.03" width="4.80" height="5.00" fill="#fff" />
<rect x="477.30" y="505.13" width="3.60" height="0.90" fill="#fff" />
<rect x="478.60" y="493.63" width="1.10" height="4.20" fill="#fff" />
<rect x="482.68" y="499.03" width="4.80" height="5.00" fill="#fff" />
<rect x="483.28" y="505.13" width="3.60" height="0.90" fill="#fff" />
<rect x="484.58" y="493.63" width="1.10" height="5.80" fill="#fff" />
<rect x="488.66" y="499.03" width="4.80" height="5.00" fill="#fff" />
<rect x="489.26" y="505.13" width="3.60" height="0.90" fill="#fff" />
<rect x="490.56" y="493.63" width="1.10" height="4.20" fill="#fff" />
<rect x="494.64" y="499.03" width="4.80" height="5.00" fill="#fff" />
<rect x="495.24" y="505.13" width="3.60" height="0.90" fill="#fff" />
<rect x="496.54" y="493.63" width="1.10" height="4.20" fill="#fff" />
<rect x="500.62" y="499.03" width="4.80" height="5.00" fill="#fff" />
<rect x="501.22" y="505.13" width="3.60" height="0.90" fill="#fff" />
<rect x="502.52" y="493.63" width="1.10" height="5.80" fill="#fff" />
<rect x="506.60" y="499.03" width="4.80" height="5.00" fill="#fff" />
<rect x="507.20" y="505.13" width="3.60" height="0.90" fill="#fff" />
<rect x="508.50" y="493.63" width="1.10" height="4.20" fill="#fff" />
<rect x="512.58" y="499.03" width="4.80" height="5.00" fill="#fff" />
<rect x="513.18" y="505.13" width="3.60" height="0.90" fill="#fff" />
<rect x="514.48" y="493.63" width="1.10" height="4.20" fill="#fff" />
<rect x="518.56" y="499.03" width="4.80" height="5.00" fill="#fff" />
<rect x="519.16" y="505.13" width="3.60" height="0.90" fill="#fff" />
<rect x="520.46" y="493.63" width="1.10" height="5.80" fill="#fff" />
<rect x="524.54" y="499.03" width="4.80" height="5.00" fill="#fff" />
<rect x="525.14" y="505.13" width="3.60" height="0.90" fill="#fff" />
<rect x="526.44" y="493.63" width="1.10" height="4.20" fill="#fff" />
<rect x="530.52" y="499.03" width="4.80" height="5.00" fill="#fff" />
<rect x="531.12" y="505.13" width="3.60" height="0.90" fill="#fff" />
<rect x="532.42" y="493.63" width="1.10" height="4.20" fill="#fff" />
<rect x="536.50" y="499.03" width="4.80" height="5.00" fill="#fff" />
<rect x="537.10" y="505.13" width="3.60" height="0.90" fill="#fff" />
<rect x="538.40" y="493.63" width="1.10" height="5.80" fill="#fff" />
<rect x="542.48" y="499.03" width="4.80" height="5.00" fill="#fff" />
<rect x="543.08" y="505.13" width="3.60" height="0.90" fill="#fff" />
<rect x="544.38" y="493.63" width="1.10" height="4.20" fill="#fff" />
<rect x="548.46" y="499.03" width="4.80" height="5.00" fill="#fff" />
<rect x="549.06" y="505.13" width="3.60" height="0.90" fill="#fff" />
<rect x="550.36" y="493.63" width="1.10" height="4.20" fill="#fff" />
<rect x="554.44" y="499.03" width="4.80" height="5.00" fill="#fff" />
<rect x="555.04" y="505.13" width="3.60" height="0.90" fill="#fff" />
<rect x="556.34" y="493.63" width="1.10" height="5.80" fill="#fff" />
<rect x="560.42" y="499.03" width="4.80" height="5.00" fill="#fff" />
<rect x="561.02" y="505.13" width="3.60" height="0.90" fill="#fff" />
<rect x="562.32" y="493.63" width="1.10" height="4.20" fill="#fff" />
<rect x="566.40" y="499.03" width="4.80" height="5.00" fill="#fff" />
<rect x="567.00" y="505.13" width="3.60" height="0.90" fill="#fff" />
<rect x="568.30" y="493.63" width="1.10" height="4.20" fill="#fff" />
<rect x="572.38" y="499.03" width="4.80" height="5.00" fill="#fff" />
<rect x="572.98" y="505.13" width="3.60" height="0.90" fill="#fff" />
<rect x="574.28" y="493.63" width="1.10" height="5.80" fill="#fff" />
<rect x="578.36" y="499.03" width="4.80" height="5.00" fill="#fff" />
<rect x="578.96" y="505.13" width="3.60" height="0.90" fill="#fff" />
<rect x="580.26" y="493.63" width="1.10" height="4.20" fill="#fff" />
<rect x="584.34" y="499.03" width="4.80" height="5.00" fill="#fff" />
<rect x="584.94" y="505.13" width="3.60" height="0.90" fill="#fff" />
<rect x="586.24" y="493.63" width="1.10" height="4.20" fill="#fff" />
<rect x="60.00" y="31.00" width="7.00" height="31.00" fill="#000" />
<rect x="65.00" y="32.00" width="1.00" height="29.00" fill="#fff" />
<rect x="61.00" y="53.00" width="4.00" height="1.00" fill="#fff" />
<rect x="61.00" y="49.00" width="4.00" height="1.00" fill="#fff" />
<rect x="61.00" y="45.00" width="4.00" height="1.00" fill="#fff" />
<rect x="61.00" y="41.00" width="4.00" height="1.00" fill="#fff" />
<rect x="61.00" y="37.00" width="4.00" height="1.00" fill="#fff" />
<rect x="62.00" y="56.00" width="2.00" height="3.00" fill="#fff" />
<rect x="62.00" y="57.00" width="2.00" height="1.00" fill="#000" />
<rect x="61.00" y="60.00" width="4.00" height="1.00" fill="#fff" />
<rect x="60.00" y="65.00" width="7.00" height="23.00" fill="#000" />
<rect x="65.00" y="66.00" width="1.00" height="21.00" fill="#fff" />
<rect x="61.00" y="80.00" width="4.00" height="1.00" fill="#fff" />
<rect x="61.00" y="76.00" width="4.00" height="1.00" fill="#fff" />
<rect x="61.00" y="72.00" width="4.00" height="1.00" fill="#fff" />
<rect x="62.00" y="82.00" width="2.00" height="3.00" fill="#fff" />
<rect x="62.00" y="83.00" width="2.00" height="1.00" fill="#000" />
<rect x="61.00" y="86.00" width="4.00" height="1.00" fill="#fff" />
<rect x="61.00" y="66.30" width="4.00" height="1.70" fill="#fff" />
<rect x="70.00" y="31.00" width="7.00" height="13.00" fill="#000" />
<rect x="71.00" y="37.00" width="5.00" height="1.00" fill="#fff" />
<rect x="71.00" y="42.00" width="5.00" height="1.00" fill="#fff" />
<rect x="79.00" y="31.00" width="7.00" height="13.00" fill="#000" />
<rect x="81.00" y="32.00" width="1.00" height="11.00" fill="#fff" />
<rect x="81.00" y="37.00" width="4.00" height="1.00" fill="#fff" />
<rect x="81.00" y="42.00" width="4.00" height="1.00" fill="#fff" />
<rect x="70.00" y="52.00" width="7.00" height="14.00" fill="#000" />
<rect x="71.00" y="53.00" width="5.00" height="1.00" fill="#fff" />
<rect x="71.00" y="58.00" width="5.00" height="2.00" fill="#fff" />
<rect x="71.00" y="64.00" width="5.00" height="1.00" fill="#fff" />
<rect x="115.00" y="98.00" width="7.00" height="14.00" fill="#000" />
<rect x="116.00" y="99.00" width="5.00" height="1.00" fill="#fff" />
<rect x="116.00" y="104.00" width="5.00" height="2.00" fill="#fff" />
<rect x="116.00" y="110.00" width="5.00" height="1.00" fill="#fff" />
<rect x="124.00" y="98.00" width="7.00" height="14.00" fill="#000" />
<rect x="125.00" y="99.00" width="5.00" height="1.00" fill="#fff" />
<rect x="125.00" y="104.00" width="5.00" height="2.00" fill="#fff" />
<rect x="125.00" y="110.00" width="5.00" height="1.00" fill="#fff" />
<rect x="129.00" y="99.00" width="1.00" height="12.00" fill="#fff" />
<rect x="132.00" y="98.00" width="7.00" height="14.00" fill="#000" />
<rect x="133.00" y="99.00" width="5.00" height="1.00" fill="#fff" />
<rect x="133.00" y="104.00" width="5.00" height="2.00" fill="#fff" />
<rect x="133.00" y="110.00" width="5.00" height="1.00" fill="#fff" />
<rect x="141.00" y="98.00" width="6.00" height="14.00" fill="#000" />
<rect x="142.00" y="99.00" width="4.00" height="1.00" fill="#fff" />
<rect x="142.00" y="104.00" width="4.00" height="2.00" fill="#fff" />
<rect x="142.00" y="110.00" width="4.00" height="1.00" fill="#fff" />
<rect x="149.00" y="98.00" width="7.00" height="14.00" fill="#000" />
<rect x="150.00" y="99.00" width="5.00" height="1.00" fill="#fff" />
<rect x="150.00" y="104.00" width="5.00" height="2.00" fill="#fff" />
<rect x="150.00" y="110.00" width="5.00" height="1.00" fill="#fff" />
<rect x="158.00" y="98.00" width="6.00" height="14.00" fill="#000" />
<rect x="159.00" y="99.00" width="4.00" height="1.00" fill="#fff" />
<rect x="159.00" y="104.00" width="4.00" height="2.00" fill="#fff" />
<rect x="159.00" y="110.00" width="4.00" height="1.00" fill="#fff" />
<rect x="140.00" y="116.00" width="7.00" height="19.00" fill="#000" />
<rect x="141.00" y="122.30" width="5.00" height="1.00" fill="#fff" />
<rect x="141.00" y="127.80" width="5.00" height="1.20" fill="#fff" />
<rect x="142.00" y="129.70" width="3.00" height="2.80" fill="#fff" />
<rect x="143.00" y="130.60" width="1.00" height="1.00" fill="#000" />
<rect x="141.00" y="133.20" width="5.00" height="0.80" fill="#fff" />
<rect x="149.00" y="116.00" width="7.00" height="19.00" fill="#000" />
<rect x="150.00" y="117.30" width="1.00" height="16.30" fill="#fff" />
<rect x="150.00" y="122.30" width="5.00" height="1.00" fill="#fff" />
<rect x="150.00" y="127.80" width="5.00" height="1.20" fill="#fff" />
<rect x="151.00" y="129.70" width="3.00" height="2.80" fill="#fff" />
<rect x="152.00" y="130.60" width="1.00" height="1.00" fill="#000" />
<rect x="150.00" y="133.20" width="5.00" height="0.80" fill="#fff" />
<rect x="158.00" y="116.00" width="6.00" height="19.00" fill="#000" />
<rect x="159.00" y="117.30" width="1.00" height="16.30" fill="#fff" />
<rect x="159.00" y="122.30" width="4.00" height="1.00" fill="#fff" />
<rect x="159.00" y="127.80" width="4.00" height="1.20" fill="#fff" />
<rect x="160.00" y="129.70" width="2.00" height="2.80" fill="#fff" />
<rect x="161.00" y="130.60" width="1.00" height="1.00" fill="#000" />
<rect x="159.00" y="133.20" width="4.00" height="0.80" fill="#fff" />
<rect x="157.00" y="148.00" width="6.00" height="18.00" fill="#000" />
<rect x="158.00" y="154.10" width="4.00" height="1.00" fill="#fff" />
<rect x="158.00" y="159.60" width="4.00" height="1.20" fill="#fff" />
<rect x="159.00" y="161.50" width="2.00" height="2.80" fill="#fff" />
<rect x="160.00" y="162.40" width="1.00" height="1.00" fill="#000" />
<rect x="158.00" y="165.00" width="4.00" height="0.80" fill="#fff" />
<rect x="157.00" y="168.00" width="6.00" height="19.00" fill="#000" />
<rect x="158.00" y="174.50" width="4.00" height="1.00" fill="#fff" />
<rect x="158.00" y="180.00" width="4.00" height="1.20" fill="#fff" />
<rect x="159.00" y="181.90" width="2.00" height="2.80" fill="#fff" />
<rect x="160.00" y="182.80" width="1.00" height="1.00" fill="#000" />
<rect x="158.00" y="185.40" width="4.00" height="0.80" fill="#fff" />
<rect x="147.00" y="194.00" width="7.00" height="18.00" fill="#000" />
<rect x="148.00" y="200.20" width="5.00" height="1.00" fill="#fff" />
<rect x="148.00" y="205.70" width="5.00" height="1.20" fill="#fff" />
<rect x="149.00" y="207.60" width="3.00" height="2.80" fill="#fff" />
<rect x="150.00" y="208.50" width="1.00" height="1.00" fill="#000" />
<rect x="148.00" y="211.10" width="5.00" height="0.80" fill="#fff" />
<rect x="157.00" y="194.00" width="7.00" height="18.00" fill="#000" />
<rect x="158.00" y="200.20" width="4.00" height="1.00" fill="#fff" />
<rect x="158.00" y="205.70" width="4.00" height="1.20" fill="#fff" />
<rect x="159.00" y="207.60" width="3.00" height="2.80" fill="#fff" />
<rect x="160.00" y="208.50" width="1.00" height="1.00" fill="#000" />
<rect x="158.00" y="211.10" width="4.00" height="0.80" fill="#fff" />
<rect x="700.00" y="54.00" width="7.00" height="14.00" fill="#000" />
<rect x="701.00" y="55.00" width="1.00" height="12.00" fill="#fff" />
<rect x="701.00" y="55.00" width="5.00" height="1.00" fill="#fff" />
<rect x="701.00" y="60.00" width="5.00" height="2.00" fill="#fff" />
<rect x="701.00" y="66.00" width="5.00" height="1.00" fill="#fff" />
<rect x="425.00" y="327.00" width="7.00" height="14.00" fill="#000" />
<rect x="426.00" y="328.00" width="5.00" height="1.00" fill="#fff" />
<rect x="426.00" y="333.00" width="5.00" height="2.00" fill="#fff" />
<rect x="426.00" y="339.00" width="5.00" height="1.00" fill="#fff" />
<rect x="90.00" y="344.00" width="14.00" height="7.00" fill="#000" />
<rect x="91.00" y="345.00" width="1.00" height="5.00" fill="#fff" />
<rect x="96.00" y="345.00" width="2.00" height="5.00" fill="#fff" />
<rect x="102.00" y="345.00" width="1.00" height="5.00" fill="#fff" />
<rect x="630.00" y="362.00" width="26.00" height="7.00" fill="#000" />
<rect x="631.00" y="363.00" width="2.00" height="5.00" fill="#fff" />
<rect x="637.00" y="363.00" width="1.00" height="5.00" fill="#fff" />
<rect x="643.00" y="363.00" width="1.00" height="5.00" fill="#fff" />
<rect x="649.00" y="363.00" width="1.00" height="5.00" fill="#fff" />
<rect x="651.00" y="363.00" width="3.00" height="5.00" fill="#fff" />
<rect x="655.00" y="363.00" width="1.00" height="5.00" fill="#fff" />
<rect x="652.00" y="364.00" width="1.00" height="3.00" fill="#000" />
<rect x="193.00" y="375.00" width="7.00" height="19.00" fill="#000" />
<rect x="198.00" y="376.00" width="1.00" height="11.30" fill="#fff" />
<rect x="194.00" y="381.20" width="5.00" height="1.00" fill="#fff" />
<rect x="194.00" y="386.70" width="5.00" height="1.20" fill="#fff" />
<rect x="195.00" y="388.60" width="3.00" height="2.80" fill="#fff" />
<rect x="196.00" y="389.50" width="1.00" height="1.00" fill="#000" />
<rect x="194.00" y="392.10" width="5.00" height="0.80" fill="#fff" />
<rect x="206.00" y="375.00" width="7.00" height="19.00" fill="#000" />
<rect x="207.00" y="381.40" width="5.00" height="1.00" fill="#fff" />
<rect x="207.00" y="386.90" width="5.00" height="1.20" fill="#fff" />
<rect x="208.00" y="388.80" width="3.00" height="2.80" fill="#fff" />
<rect x="209.00" y="389.70" width="1.00" height="1.00" fill="#000" />
<rect x="207.00" y="392.30" width="5.00" height="0.80" fill="#fff" />
<rect x="215.00" y="375.00" width="7.00" height="19.00" fill="#000" />
<rect x="216.00" y="381.40" width="5.00" height="1.00" fill="#fff" />
<rect x="216.00" y="386.90" width="5.00" height="1.20" fill="#fff" />
<rect x="217.00" y="388.80" width="3.00" height="2.80" fill="#fff" />
<rect x="218.00" y="389.70" width="1.00" height="1.00" fill="#000" />
<rect x="216.00" y="392.30" width="5.00" height="0.80" fill="#fff" />
<rect x="223.00" y="375.00" width="7.00" height="19.00" fill="#000" />
<rect x="224.00" y="381.40" width="5.00" height="1.00" fill="#fff" />
<rect x="224.00" y="386.90" width="5.00" height="1.20" fill="#fff" />
<rect x="225.00" y="388.80" width="3.00" height="2.80" fill="#fff" />
<rect x="226.00" y="389.70" width="1.00" height="1.00" fill="#000" />
<rect x="224.00" y="392.30" width="5.00" height="0.80" fill="#fff" />
<rect x="232.00" y="380.00" width="6.00" height="14.00" fill="#000" />
<rect x="233.00" y="381.00" width="5.00" height="1.00" fill="#fff" />
<rect x="233.00" y="386.00" width="5.00" height="2.00" fill="#fff" />
<rect x="233.00" y="392.00" width="5.00" height="1.00" fill="#fff" />
<rect x="240.00" y="380.00" width="7.00" height="14.00" fill="#000" />
<rect x="241.00" y="381.00" width="5.00" height="1.00" fill="#fff" />
<rect x="241.00" y="386.00" width="5.00" height="2.00" fill="#fff" />
<rect x="241.00" y="392.00" width="5.00" height="1.00" fill="#fff" />
<rect x="245.00" y="381.00" width="1.00" height="12.00" fill="#fff" />
<path d="M81.40,17.60 L73.30,29.60 L85.40,21.20 Z" fill="#000" stroke="#000" stroke-width="1.5" stroke-linejoin="round"/>
<rect x="80.20" y="3.70" width="33.60" height="19.10" rx="3.0" fill="#000"/>
<rect x="81.80" y="6.60" width="29.70" height="14.20" rx="1.6" fill="#fff"/>
<path d="M84.20,17.55 L82.12,18.25 L80.07,22.77 L84.68,20.55 L86.40,19.53 Z" fill="#fff"/>
<text x="95.15" y="18.17" font-size="12.5" letter-spacing="1.0" text-anchor="middle" fill="#000" font-family="Liberation Sans, sans-serif">J11</text>
<path d="M103.70,33.20 L100.64,34.50 L96.05,34.90 L88.40,35.70 L88.40,37.90 L96.05,38.70 L100.64,39.10 L103.70,40.40 Z" fill="#000"/>
<rect x="103.10" y="27.10" width="35.30" height="18.40" rx="3.0" fill="#000"/>
<rect x="104.70" y="29.20" width="31.70" height="14.20" rx="1.6" fill="#fff"/>
<path d="M105.90,35.30 L103.70,35.30 L100.64,36.30 L97.12,36.80 L100.64,37.30 L103.70,38.30 L105.90,38.30 Z" fill="#fff"/>
<text x="120.35" y="40.78" font-size="12.5" letter-spacing="1.0" text-anchor="middle" fill="#000" font-family="Liberation Sans, sans-serif">J10</text>
<path d="M41.30,40.10 C43.75,43.50 47.25,44.90 52.85,45.70 L58.80,46.20 L58.80,47.60 L52.85,48.10 C47.25,48.90 43.75,50.30 41.30,53.70 Z" fill="#000"/>
<rect x="7.50" y="37.90" width="34.40" height="17.70" rx="3.0" fill="#000"/>
<rect x="9.40" y="39.20" width="31.10" height="14.40" rx="1.6" fill="#fff"/>
<path d="M39.10,42.50 L41.30,42.50 C43.75,45.14 47.25,46.60 47.07,46.90 C47.25,47.20 43.75,48.66 41.30,51.30 L39.10,51.30 Z" fill="#fff"/>
<text x="24.75" y="50.88" font-size="12.5" letter-spacing="1.0" text-anchor="middle" fill="#000" font-family="Liberation Sans, sans-serif">J13</text>
<path d="M92.90,54.10 L89.80,55.43 L85.15,55.90 L77.40,56.70 L77.40,58.90 L85.15,59.70 L89.80,60.17 L92.90,61.50 Z" fill="#000"/>
<rect x="92.30" y="49.20" width="35.70" height="18.20" rx="3.0" fill="#000"/>
<rect x="94.10" y="51.10" width="31.90" height="14.20" rx="1.6" fill="#fff"/>
<path d="M95.10,56.20 L92.90,56.20 L89.80,57.30 L86.23,57.80 L89.80,58.30 L92.90,59.40 L95.10,59.40 Z" fill="#fff"/>
<text x="109.85" y="62.68" font-size="12.5" letter-spacing="1.0" text-anchor="middle" fill="#000" font-family="Liberation Sans, sans-serif">J9</text>
<path d="M41.30,68.80 C43.64,72.20 46.98,73.60 52.32,74.40 L58.00,74.90 L58.00,76.30 L52.32,76.80 C46.98,77.60 43.64,79.00 41.30,82.40 Z" fill="#000"/>
<rect x="7.50" y="66.00" width="34.40" height="17.80" rx="3.0" fill="#000"/>
<rect x="9.40" y="68.10" width="31.10" height="14.40" rx="1.6" fill="#fff"/>
<path d="M39.10,71.20 L41.30,71.20 C43.64,73.84 46.98,75.30 46.81,75.60 C46.98,75.90 43.64,77.36 41.30,80.00 L39.10,80.00 Z" fill="#fff"/>
<text x="24.75" y="79.77" font-size="12.5" letter-spacing="1.0" text-anchor="middle" fill="#000" font-family="Liberation Sans, sans-serif">J12</text>
<path d="M130.20,84.60 L134.40,96.40 L138.60,84.60 Z" fill="#000" stroke="#000" stroke-width="1.5" stroke-linejoin="round"/>
<rect x="106.70" y="68.20" width="59.50" height="17.80" rx="3.0" fill="#000"/>
<rect x="108.60" y="70.30" width="55.30" height="13.40" rx="1.6" fill="#fff"/>
<path d="M131.87,83.55 L131.12,84.60 L134.40,91.44 L137.68,84.60 L137.50,83.55 Z" fill="#fff"/>
<text x="135.80" y="81.47" font-size="12.5" letter-spacing="0.5" text-anchor="middle" fill="#000" font-family="Liberation Sans, sans-serif">JP27-24</text>
<path d="M105.00,98.50 L114.20,105.40 L101.50,103.00 Z" fill="#000" stroke="#000" stroke-width="1.5" stroke-linejoin="round"/>
<rect x="65.30" y="86.80" width="41.00" height="17.40" rx="3.0" fill="#000"/>
<rect x="67.30" y="88.30" width="36.70" height="13.70" rx="1.6" fill="#fff"/>
<path d="M101.77,98.78 L104.37,99.31 L106.86,102.28 L102.13,102.19 L99.84,101.25 Z" fill="#fff"/>
<text x="85.10" y="99.62" font-size="12.5" letter-spacing="0.3" text-anchor="middle" fill="#000" font-family="Liberation Sans, sans-serif">JP29</text>
<path d="M114.50,115.20 L127.60,113.30 L118.00,118.40 Z" fill="#000" stroke="#000" stroke-width="1.5" stroke-linejoin="round"/>
<rect x="77.50" y="114.10" width="41.70" height="18.20" rx="3.0" fill="#000"/>
<rect x="80.50" y="116.40" width="36.40" height="12.90" rx="1.6" fill="#fff"/>
<path d="M112.78,116.82 L115.13,115.78 L120.00,115.65 L117.37,117.82 L114.71,118.58 Z" fill="#fff"/>
<text x="98.15" y="127.32" font-size="12.5" letter-spacing="0.3" text-anchor="middle" fill="#000" font-family="Liberation Sans, sans-serif">JP28</text>
<path d="M124.00,134.40 L138.00,132.00 L127.00,137.20 Z" fill="#000" stroke="#000" stroke-width="1.5" stroke-linejoin="round"/>
<rect x="87.60" y="134.00" width="41.00" height="15.20" rx="3.0" fill="#000"/>
<rect x="89.40" y="135.90" width="37.20" height="11.20" rx="1.6" fill="#fff"/>
<path d="M122.24,135.84 L124.54,134.90 L129.62,134.55 L126.46,136.70 L123.89,137.38 Z" fill="#fff"/>
<text x="107.45" y="145.97" font-size="12.5" letter-spacing="0.3" text-anchor="middle" fill="#000" font-family="Liberation Sans, sans-serif">JP23</text>
<path d="M136.00,151.80 L152.50,137.20 L139.00,154.60 Z" fill="#000" stroke="#000" stroke-width="1.5" stroke-linejoin="round"/>
<rect x="101.00" y="151.00" width="39.00" height="15.60" rx="3.0" fill="#000"/>
<rect x="102.80" y="152.90" width="35.20" height="11.60" rx="1.6" fill="#fff"/>
<path d="M134.29,153.21 L136.54,152.30 L142.45,147.92 L138.46,154.10 L135.95,154.75 Z" fill="#fff"/>
<text x="119.05" y="163.17" font-size="12.5" letter-spacing="0.3" text-anchor="middle" fill="#000" font-family="Liberation Sans, sans-serif">JP21</text>
<path d="M139.40,172.60 C141.72,175.40 145.04,176.20 150.36,177.00 L156.00,177.50 L156.00,178.90 L150.36,179.40 C145.04,180.20 141.72,181.00 139.40,183.80 Z" fill="#000"/>
<rect x="101.00" y="171.60" width="39.00" height="16.40" rx="3.0" fill="#000"/>
<rect x="102.80" y="173.50" width="35.20" height="12.40" rx="1.6" fill="#fff"/>
<path d="M137.20,175.00 L139.40,175.00 C141.72,176.92 145.04,177.90 144.88,178.20 C145.04,178.50 141.72,179.48 139.40,181.40 L137.20,181.40 Z" fill="#fff"/>
<text x="119.05" y="184.17" font-size="12.5" letter-spacing="0.3" text-anchor="middle" fill="#000" font-family="Liberation Sans, sans-serif">JP16</text>
<path d="M175.00,106.00 L165.80,120.40 L178.40,109.20 Z" fill="#000" stroke="#000" stroke-width="1.5" stroke-linejoin="round"/>
<rect x="174.00" y="94.20" width="40.60" height="16.00" rx="3.0" fill="#000"/>
<rect x="175.50" y="95.40" width="36.70" height="13.10" rx="1.6" fill="#fff"/>
<path d="M178.23,105.96 L175.61,106.58 L173.10,111.82 L177.79,108.62 L180.10,107.72 Z" fill="#fff"/>
<text x="193.30" y="106.43" font-size="12.5" letter-spacing="0.3" text-anchor="middle" fill="#000" font-family="Liberation Sans, sans-serif">JP20</text>
<rect x="180.00" y="120.00" width="32.00" height="15.40" rx="3.0" fill="#000"/>
<rect x="181.80" y="121.90" width="28.20" height="11.40" rx="1.6" fill="#fff"/>
<text x="195.60" y="131.90" font-size="12" letter-spacing="0.8" text-anchor="middle" fill="#000" font-family="Liberation Sans, sans-serif">TAG</text>
<path d="M180.30,154.10 L177.30,155.32 L172.80,155.60 L165.30,156.40 L165.30,158.60 L172.80,159.40 L177.30,159.68 L180.30,160.90 Z" fill="#000"/>
<rect x="179.70" y="148.80" width="41.00" height="16.70" rx="3.0" fill="#000"/>
<rect x="181.90" y="150.30" width="37.30" height="13.70" rx="1.6" fill="#fff"/>
<path d="M182.50,156.20 L180.30,156.20 L177.30,157.00 L173.85,157.50 L177.30,158.00 L180.30,158.80 L182.50,158.80 Z" fill="#fff"/>
<text x="200.00" y="161.62" font-size="12.5" letter-spacing="0.3" text-anchor="middle" fill="#000" font-family="Liberation Sans, sans-serif">JP18</text>
<path d="M127.50,199.10 L130.56,200.72 L135.15,201.70 L142.80,202.50 L142.80,204.70 L135.15,205.50 L130.56,206.48 L127.50,208.10 Z" fill="#000"/>
<rect x="86.20" y="193.60" width="41.90" height="19.20" rx="3.0" fill="#000"/>
<rect x="88.60" y="195.90" width="37.40" height="14.60" rx="1.6" fill="#fff"/>
<path d="M125.30,201.20 L127.50,201.20 L130.56,202.62 L134.08,203.60 L130.56,204.58 L127.50,206.00 L125.30,206.00 Z" fill="#fff"/>
<text x="106.75" y="207.68" font-size="12.5" letter-spacing="0.3" text-anchor="middle" fill="#000" font-family="Liberation Sans, sans-serif">JP15</text>
<path d="M179.10,200.00 L176.18,201.26 L171.80,201.60 L164.50,202.40 L164.50,204.60 L171.80,205.40 L176.18,205.74 L179.10,207.00 Z" fill="#000"/>
<rect x="178.50" y="193.90" width="42.50" height="18.20" rx="3.0" fill="#000"/>
<rect x="180.90" y="195.80" width="38.00" height="14.30" rx="1.6" fill="#fff"/>
<path d="M181.30,202.10 L179.10,202.10 L176.18,203.00 L172.82,203.50 L176.18,204.00 L179.10,204.90 L181.30,204.90 Z" fill="#fff"/>
<text x="199.35" y="207.42" font-size="12.5" letter-spacing="0.3" text-anchor="middle" fill="#000" font-family="Liberation Sans, sans-serif">JP14</text>
<path d="M233.80,50.80 L224.00,39.60 L236.80,47.60 Z" fill="#000" stroke="#000" stroke-width="1.5" stroke-linejoin="round"/>
<rect x="232.10" y="46.10" width="23.65" height="15.80" rx="2.5" fill="#000"/>
<rect x="233.60" y="47.80" width="20.15" height="12.70" rx="1.1" fill="#fff"/>
<path d="M235.68,50.75 L234.34,50.22 L231.57,46.03 L236.26,48.18 L237.33,48.99 Z" fill="#fff"/>
<text x="243.48" y="58.45" font-size="12" letter-spacing="1.0" text-anchor="middle" fill="#000" font-family="Liberation Sans, sans-serif">S1</text>
<path d="M234.20,95.80 L224.40,83.80 L237.20,92.60 Z" fill="#000" stroke="#000" stroke-width="1.5" stroke-linejoin="round"/>
<rect x="232.10" y="90.50" width="23.65" height="16.80" rx="2.5" fill="#000"/>
<rect x="233.60" y="92.20" width="20.15" height="13.70" rx="1.1" fill="#fff"/>
<path d="M236.03,95.74 L234.74,95.22 L231.97,90.77 L236.66,93.18 L237.68,93.98 Z" fill="#fff"/>
<text x="243.48" y="103.35" font-size="12" letter-spacing="1.0" text-anchor="middle" fill="#000" font-family="Liberation Sans, sans-serif">S2</text>
<rect x="231.20" y="137.50" width="56.00" height="14.70" rx="2.5" fill="#000"/>
<rect x="231.60" y="138.00" width="55.20" height="13.80" rx="1.1" fill="#fff"/>
<text x="258.74" y="149.38" font-size="12.5" letter-spacing="0.48" text-anchor="middle" fill="#000" font-family="Liberation Sans, sans-serif">BANK 0</text>
<rect x="235.60" y="182.60" width="46.70" height="15.00" rx="1.5" fill="#000"/>
<rect x="236.20" y="183.90" width="45.50" height="12.70" rx="0.5" fill="#fff"/>
<text x="258.48" y="194.72" font-size="12.5" letter-spacing="0.45" text-anchor="middle" fill="#000" font-family="Liberation Sans, sans-serif">CACHE</text>
<rect x="231.20" y="227.00" width="56.00" height="14.60" rx="2.5" fill="#000"/>
<rect x="231.60" y="227.50" width="55.20" height="13.70" rx="1.1" fill="#fff"/>
<text x="258.74" y="238.83" font-size="12.5" letter-spacing="0.48" text-anchor="middle" fill="#000" font-family="Liberation Sans, sans-serif">BANK 1</text>
<path d="M683.80,57.70 L687.04,59.00 L691.90,59.40 L700.00,60.20 L700.00,62.40 L691.90,63.20 L687.04,63.60 L683.80,64.90 Z" fill="#000"/>
<rect x="642.50" y="52.20" width="41.90" height="18.40" rx="3.0" fill="#000"/>
<rect x="644.30" y="54.10" width="38.10" height="14.40" rx="1.6" fill="#fff"/>
<path d="M681.60,59.80 L683.80,59.80 L687.04,60.80 L690.77,61.30 L687.04,61.80 L683.80,62.80 L681.60,62.80 Z" fill="#fff"/>
<text x="663.20" y="65.42" font-size="11.5" letter-spacing="1.1" text-anchor="middle" fill="#000" font-family="Liberation Sans, sans-serif">JP30</text>
<rect x="674.00" y="134.00" width="28.00" height="13.60" rx="0" fill="#fff"/>
<text x="688.20" y="145.28" font-size="12.5" letter-spacing="0.4" text-anchor="middle" fill="#000" font-family="Liberation Sans, sans-serif">KBD</text>
<rect x="108.80" y="277.00" width="28.00" height="13.50" rx="0" fill="#fff"/>
<text x="123.00" y="288.23" font-size="12.5" letter-spacing="0.4" text-anchor="middle" fill="#000" font-family="Liberation Sans, sans-serif">CPU</text>
<rect x="350.00" y="305.80" width="41.00" height="13.50" rx="2" fill="#fff"/>
<text x="370.55" y="317.03" font-size="12.5" letter-spacing="0.1" text-anchor="middle" fill="#000" font-family="Liberation Sans, sans-serif">BIOS</text>
<path d="M447.80,330.00 L444.66,331.15 L439.95,331.30 L432.10,332.10 L432.10,334.30 L439.95,335.10 L444.66,335.25 L447.80,336.40 Z" fill="#000"/>
<rect x="447.20" y="324.00" width="34.60" height="18.10" rx="3.0" fill="#000"/>
<rect x="450.10" y="325.90" width="30.70" height="13.80" rx="1.6" fill="#fff"/>
<path d="M450.00,332.10 L447.80,332.10 L444.66,332.70 L441.05,333.20 L444.66,333.70 L447.80,334.30 L450.00,334.30 Z" fill="#fff"/>
<text x="464.90" y="337.28" font-size="12.5" letter-spacing="0.3" text-anchor="middle" fill="#000" font-family="Liberation Sans, sans-serif">JP3</text>
<path d="M121.60,343.20 L118.28,344.57 L113.30,345.10 L105.00,345.90 L105.00,348.10 L113.30,348.90 L118.28,349.43 L121.60,350.80 Z" fill="#000"/>
<rect x="121.00" y="339.00" width="40.80" height="16.80" rx="3.0" fill="#000"/>
<rect x="122.80" y="340.90" width="37.00" height="12.80" rx="1.6" fill="#fff"/>
<path d="M123.80,345.30 L121.60,345.30 L118.28,346.47 L114.46,347.00 L118.28,347.53 L121.60,348.70 L123.80,348.70 Z" fill="#fff"/>
<text x="140.75" y="351.78" font-size="12.5" letter-spacing="0.3" text-anchor="middle" fill="#000" font-family="Liberation Sans, sans-serif">JP11</text>
<path d="M207.40,366.00 L219.00,373.80 L211.40,362.40 Z" fill="#000" stroke="#000" stroke-width="1.5" stroke-linejoin="round"/>
<rect x="179.20" y="349.30" width="33.70" height="18.70" rx="3.0" fill="#000"/>
<rect x="181.30" y="350.80" width="29.30" height="14.70" rx="1.6" fill="#fff"/>
<path d="M206.43,364.41 L208.12,365.35 L212.57,367.37 L210.68,363.05 L208.63,362.43 Z" fill="#fff"/>
<text x="195.40" y="362.62" font-size="12.5" letter-spacing="0.3" text-anchor="middle" fill="#000" font-family="Liberation Sans, sans-serif">JP7</text>
<path d="M233.20,362.40 L225.20,373.80 L237.20,366.00 Z" fill="#000" stroke="#000" stroke-width="1.5" stroke-linejoin="round"/>
<rect x="231.80" y="349.30" width="33.70" height="18.70" rx="3.0" fill="#000"/>
<rect x="233.90" y="350.80" width="29.30" height="14.70" rx="1.6" fill="#fff"/>
<path d="M235.98,362.43 L233.92,363.05 L231.90,367.37 L236.48,365.35 L238.18,364.41 Z" fill="#fff"/>
<text x="248.00" y="362.62" font-size="12.5" letter-spacing="0.3" text-anchor="middle" fill="#000" font-family="Liberation Sans, sans-serif">JP6</text>
<path d="M174.70,380.40 L177.72,381.77 L182.25,382.30 L189.80,383.10 L189.80,385.30 L182.25,386.10 L177.72,386.63 L174.70,388.00 Z" fill="#000"/>
<rect x="139.30" y="375.10" width="36.00" height="18.70" rx="3.0" fill="#000"/>
<rect x="141.30" y="377.10" width="31.90" height="13.90" rx="1.6" fill="#fff"/>
<path d="M172.50,382.50 L174.70,382.50 L177.72,383.67 L181.19,384.20 L177.72,384.73 L174.70,385.90 L172.50,385.90 Z" fill="#fff"/>
<text x="156.70" y="388.53" font-size="12.5" letter-spacing="0.3" text-anchor="middle" fill="#000" font-family="Liberation Sans, sans-serif">JP9</text>
<path d="M263.70,381.70 L260.64,382.96 L256.05,383.30 L248.40,384.10 L248.40,386.30 L256.05,387.10 L260.64,387.44 L263.70,388.70 Z" fill="#000"/>
<rect x="263.10" y="376.00" width="35.70" height="18.50" rx="3.0" fill="#000"/>
<rect x="264.90" y="377.90" width="31.90" height="14.50" rx="1.6" fill="#fff"/>
<path d="M265.90,383.80 L263.70,383.80 L260.64,384.70 L257.12,385.20 L260.64,385.70 L263.70,386.60 L265.90,386.60 Z" fill="#fff"/>
<text x="280.30" y="389.62" font-size="12.5" letter-spacing="0.3" text-anchor="middle" fill="#000" font-family="Liberation Sans, sans-serif">JP4</text>
<path d="M199.60,403.20 L210.00,396.40 L203.40,406.40 Z" fill="#000" stroke="#000" stroke-width="1.5" stroke-linejoin="round"/>
<rect x="170.10" y="401.70" width="34.90" height="18.90" rx="3.0" fill="#000"/>
<rect x="171.90" y="403.90" width="31.10" height="14.80" rx="1.6" fill="#fff"/>
<path d="M198.50,404.81 L200.28,403.78 L204.31,402.03 L202.72,405.82 L200.59,406.57 Z" fill="#fff"/>
<text x="186.90" y="415.78" font-size="12.5" letter-spacing="0.3" text-anchor="middle" fill="#000" font-family="Liberation Sans, sans-serif">JP8</text>
<path d="M242.80,406.50 L234.30,396.30 L246.00,403.80 Z" fill="#000" stroke="#000" stroke-width="1.5" stroke-linejoin="round"/>
<rect x="241.10" y="402.40" width="33.50" height="18.30" rx="3.0" fill="#000"/>
<rect x="242.90" y="404.30" width="29.70" height="14.30" rx="1.6" fill="#fff"/>
<path d="M245.40,406.79 L243.38,406.01 L241.07,402.23 L245.42,404.29 L247.16,405.30 Z" fill="#fff"/>
<text x="257.20" y="415.93" font-size="12.5" letter-spacing="0.3" text-anchor="middle" fill="#000" font-family="Liberation Sans, sans-serif">JP5</text>
<rect x="472.80" y="378.60" width="60.50" height="17.10" rx="2.6" fill="#000"/>
<rect x="474.80" y="380.60" width="55.20" height="14.00" rx="1.2000000000000002" fill="#fff"/>
<text x="502.45" y="392.33" font-size="13.2" letter-spacing="0.1" text-anchor="middle" fill="#000" font-family="Liberation Sans, sans-serif">BANK 0</text>
<rect x="472.80" y="459.50" width="60.50" height="17.10" rx="2.6" fill="#000"/>
<rect x="474.80" y="461.50" width="55.20" height="14.00" rx="1.2000000000000002" fill="#fff"/>
<text x="502.45" y="473.23" font-size="13.2" letter-spacing="0.1" text-anchor="middle" fill="#000" font-family="Liberation Sans, sans-serif">BANK 1</text>
<path d="M672.80,362.20 L669.64,363.57 L664.90,364.10 L657.00,364.90 L657.00,367.10 L664.90,367.90 L669.64,368.43 L672.80,369.80 Z" fill="#000"/>
<rect x="672.20" y="357.20" width="35.40" height="18.00" rx="3.0" fill="#000"/>
<rect x="674.00" y="359.10" width="31.60" height="14.00" rx="1.6" fill="#fff"/>
<path d="M675.00,364.30 L672.80,364.30 L669.64,365.47 L666.01,366.00 L669.64,366.53 L672.80,367.70 L675.00,367.70 Z" fill="#fff"/>
<text x="689.60" y="370.57" font-size="12.5" letter-spacing="1.0" text-anchor="middle" fill="#000" font-family="Liberation Sans, sans-serif">J14</text>
<text transform="translate(557.40,51.90) scale(0.885,1)" x="0.33" y="0" font-size="12.3" letter-spacing="0.65" text-anchor="middle" fill="#000" font-family="Liberation Sans, sans-serif">MH1115</text>
</svg>
</body></html>
